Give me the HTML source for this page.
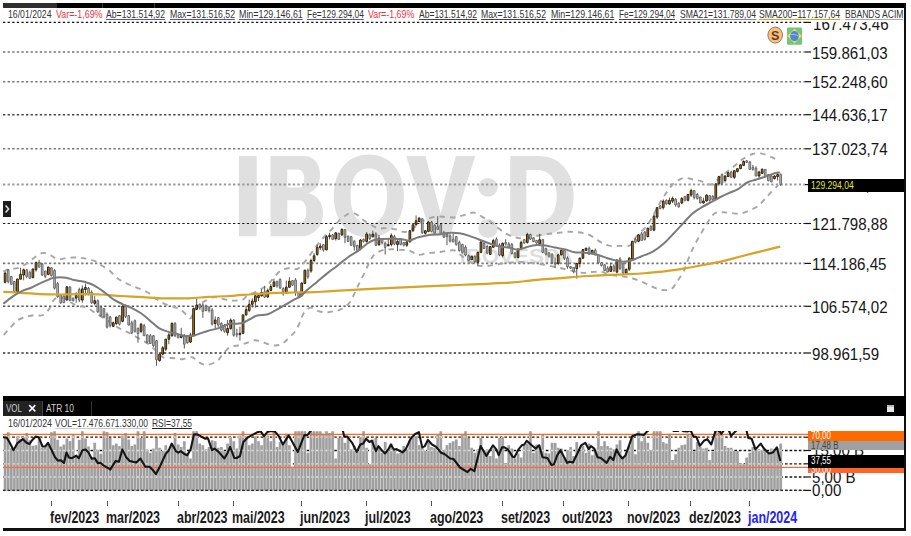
<!DOCTYPE html>
<html><head><meta charset="utf-8"><title>IBOV:D</title>
<style>
html,body{margin:0;padding:0;background:#fff;}
body{width:911px;height:536px;position:relative;overflow:hidden;font-family:"Liberation Sans",sans-serif;}
.abs{position:absolute;white-space:nowrap;}
.hd{position:absolute;top:8.6px;height:10.5px;line-height:10.5px;font-size:11px;color:#333;white-space:nowrap;transform-origin:0 50%;}
.hd u{text-decoration:none;display:inline-block;height:10.3px;line-height:10.5px;border-bottom:1px solid #5b5bd6;}
.ax{position:absolute;left:812px;font-size:16.5px;line-height:16px;color:#161616;white-space:nowrap;transform-origin:0 50%;transform:scaleX(.915);margin-top:.8px}
.mo{position:absolute;top:509.8px;font-size:16px;line-height:16px;font-weight:bold;color:#1a1a1a;white-space:nowrap;transform-origin:0 50%;transform:scaleX(.778);}
.box{position:absolute;left:808px;width:96px;white-space:nowrap;overflow:hidden;}
.box span{display:inline-block;transform-origin:0 50%;transform:scaleX(.8);}
</style></head><body>
<svg class="abs" style="left:0;top:0" width="911" height="536" viewBox="0 0 911 536">
<g fill="#e0e0e0" fill-rule="evenodd">
<rect x="238.9" y="155.9" width="17.8" height="80.4"/>
<path d="M270.5 155.9H303C314 155.9 320 163.5 320 175.2C320 184.5 315.5 190.5 308.5 193.2C317.5 195.4 322.9 202.5 322.9 213C322.9 227.5 313.5 236.3 300 236.3H270.5ZM287.3 169.6V187.6H299.5C304 187.6 304.3 182 304.3 178.6C304.3 173 302 169.6 297.5 169.6ZM287.3 200.3V222.6H300C305 222.6 306.3 216.5 306.3 211.4C306.3 205 304 200.3 299 200.3Z"/>
<path d="M368.85 154.6C390 154.6 403.9 171 403.9 196.1C403.9 221.2 390 237.6 368.85 237.6C347.7 237.6 333.8 221.2 333.8 196.1C333.8 171 347.7 154.6 368.85 154.6ZM368.85 168.4C357 168.4 350.6 178.5 350.6 196.1C350.6 213.7 357 223.8 368.85 223.8C380.7 223.8 387.1 213.7 387.1 196.1C387.1 178.5 380.7 168.4 368.85 168.4Z"/>
<path d="M406.2 155.9H425.5L440.7 213.5L455.9 155.9H475.3L449.8 236.3H431.6Z"/>
<ellipse cx="488" cy="187.3" rx="9.7" ry="9.4"/><ellipse cx="488" cy="228.5" rx="9.7" ry="9.4"/>
<path d="M510.3 155.9H538C560 155.9 573.7 171.5 573.7 196.1C573.7 220.7 560 236.3 538 236.3H510.3ZM526.4 170.1V222.1H537C550 222.1 556.7 212.5 556.7 196.1C556.7 179.7 550 170.1 537 170.1Z"/>
<text x="459.4" y="263" font-family="Liberation Sans, sans-serif" font-weight="bold" font-size="20" fill="#dedede" textLength="113.8" lengthAdjust="spacingAndGlyphs">IBOVESPA</text>
</g>
<line x1="3" y1="22.4" x2="805" y2="22.4" stroke="#111" stroke-width="1.2" stroke-dasharray="2.3 2.3"/>
<line x1="3" y1="52" x2="805" y2="52" stroke="#777" stroke-width="1.6" stroke-dasharray="2.3 2.3"/>
<line x1="3" y1="81.7" x2="805" y2="81.7" stroke="#777" stroke-width="1.6" stroke-dasharray="2.3 2.3"/>
<line x1="3" y1="114.7" x2="805" y2="114.7" stroke="#444" stroke-width="1.4" stroke-dasharray="2.3 2.3"/>
<line x1="3" y1="148.8" x2="805" y2="148.8" stroke="#777" stroke-width="1.6" stroke-dasharray="2.3 2.3"/>
<line x1="3" y1="184.6" x2="805" y2="184.6" stroke="#999" stroke-width="2" stroke-dasharray="2.3 2.3"/>
<line x1="3" y1="223.5" x2="805" y2="223.5" stroke="#1a1a1a" stroke-width="1.15" stroke-dasharray="2.3 2.3"/>
<line x1="3" y1="263.4" x2="805" y2="263.4" stroke="#777" stroke-width="1.6" stroke-dasharray="2.3 2.3"/>
<line x1="3" y1="306.3" x2="805" y2="306.3" stroke="#555" stroke-width="1.4" stroke-dasharray="2.3 2.3"/>
<line x1="3" y1="353" x2="805" y2="353" stroke="#333" stroke-width="1.4" stroke-dasharray="2.3 2.3"/>
<line x1="805" y1="22.4" x2="811" y2="22.4" stroke="#111" stroke-width="1.2"/>
<line x1="805" y1="52" x2="811" y2="52" stroke="#111" stroke-width="1.2"/>
<line x1="805" y1="81.7" x2="811" y2="81.7" stroke="#111" stroke-width="1.2"/>
<line x1="805" y1="114.7" x2="811" y2="114.7" stroke="#111" stroke-width="1.2"/>
<line x1="805" y1="148.8" x2="811" y2="148.8" stroke="#111" stroke-width="1.2"/>
<line x1="805" y1="184.6" x2="811" y2="184.6" stroke="#111" stroke-width="1.2"/>
<line x1="805" y1="223.5" x2="811" y2="223.5" stroke="#111" stroke-width="1.2"/>
<line x1="805" y1="263.4" x2="811" y2="263.4" stroke="#111" stroke-width="1.2"/>
<line x1="805" y1="306.3" x2="811" y2="306.3" stroke="#111" stroke-width="1.2"/>
<line x1="805" y1="353" x2="811" y2="353" stroke="#111" stroke-width="1.2"/>
<path d="M3.3 271.5C4.4 271.1 7.4 269.7 9.9 269.1C12.4 268.5 15.5 268.8 18.4 267.8C21.2 266.8 24.2 265.0 27.0 263.2C29.8 261.4 32.3 258.9 34.9 257.2C37.5 255.5 40.2 253.2 42.8 252.9C45.4 252.6 48.2 254.2 50.7 255.3C53.2 256.4 55.2 258.8 58.0 259.2C60.8 259.6 64.0 258.2 67.2 257.9C70.4 257.6 73.9 257.5 77.0 257.6C80.1 257.7 82.6 258.0 85.6 258.6C88.6 259.2 92.2 260.0 94.9 261.2C97.6 262.4 99.5 264.2 102.0 265.8C104.5 267.4 107.5 268.9 110.0 271.0C112.5 273.1 114.0 276.0 117.3 278.3C120.6 280.6 125.0 282.7 130.0 285.0C134.9 287.3 142.7 289.7 147.0 292.0C151.3 294.3 152.8 296.7 155.7 298.6C158.6 300.5 161.1 302.2 164.2 303.6C167.3 305.0 171.3 306.0 174.2 307.1C177.0 308.2 178.9 308.3 181.3 310.0C183.7 311.7 186.9 315.8 188.5 317.1C190.1 318.4 190.1 318.9 191.0 318.0C191.9 317.1 192.7 314.2 194.0 312.0C195.3 309.8 197.1 306.9 199.0 305.0C200.9 303.1 203.1 302.0 205.6 300.7C208.1 299.4 211.1 297.3 214.2 297.1C217.3 296.9 221.0 298.7 224.2 299.3C227.4 299.9 230.3 300.5 233.4 300.6C236.5 300.7 240.4 300.5 242.7 299.7C245.0 298.9 244.5 297.4 247.3 295.8C250.2 294.2 256.4 291.7 259.8 289.8C263.2 287.9 265.3 286.7 267.7 284.6C270.1 282.5 272.1 279.7 274.3 277.3C276.5 274.9 278.4 272.1 281.0 270.5C283.6 268.9 287.3 268.2 290.0 268.0C292.7 267.8 295.0 269.7 297.2 269.0C299.4 268.3 300.9 266.3 303.0 264.0C305.1 261.7 307.5 258.3 310.0 255.0C312.5 251.7 315.5 247.2 318.0 244.0C320.5 240.8 322.6 238.5 325.0 236.0C327.4 233.5 329.9 231.3 332.2 228.8C334.5 226.3 336.5 223.1 338.7 220.9C340.9 218.7 343.4 216.9 345.3 215.7C347.2 214.4 348.2 213.7 350.0 213.4C351.8 213.1 354.0 213.1 356.0 214.0C358.0 214.9 359.5 217.3 361.8 219.0C364.1 220.7 366.9 222.7 369.7 224.2C372.4 225.7 375.3 227.5 378.3 228.2C381.3 228.9 384.4 228.0 387.5 228.2C390.6 228.4 393.8 228.9 396.7 229.5C399.6 230.1 402.1 232.1 404.6 232.0C407.2 231.9 409.4 230.5 412.0 229.0C414.6 227.5 417.4 224.7 420.0 223.0C422.6 221.3 424.8 219.9 427.7 218.8C430.6 217.7 434.4 216.9 437.5 216.6C440.6 216.3 443.1 216.8 446.1 216.9C449.1 217.1 452.2 217.8 455.3 217.5C458.4 217.2 461.5 215.7 464.6 214.9C467.7 214.1 470.9 212.3 473.8 212.6C476.8 212.9 479.6 215.4 482.3 216.9C485.1 218.4 487.8 219.8 490.3 221.5C492.8 223.2 495.0 225.4 497.5 227.4C500.0 229.4 502.8 231.8 505.4 233.3C508.0 234.8 510.9 235.8 513.3 236.6C515.7 237.4 517.2 238.2 520.0 238.3C522.8 238.5 526.7 238.0 530.0 237.5C533.3 237.0 536.8 235.8 540.0 235.2C543.2 234.6 546.4 234.2 549.5 233.8C552.6 233.4 555.7 233.1 558.8 232.8C561.9 232.5 564.9 231.9 568.0 231.8C571.1 231.7 574.1 231.9 577.2 232.2C580.3 232.5 583.5 232.9 586.4 233.8C589.2 234.7 591.7 236.3 594.3 237.8C596.9 239.3 599.6 241.7 602.2 243.0C604.8 244.3 607.2 245.4 610.1 245.9C613.0 246.4 616.3 245.9 619.4 245.9C622.5 245.9 626.5 246.5 628.6 246.0C630.7 245.5 630.8 244.5 632.0 243.0C633.2 241.5 633.5 239.9 636.0 237.0C638.5 234.1 643.9 229.5 647.0 225.4C650.1 221.3 652.5 216.5 654.8 212.4C657.1 208.3 659.0 204.4 661.0 201.0C663.0 197.6 665.0 194.7 667.0 191.9C669.0 189.1 670.8 186.1 673.0 184.0C675.2 181.9 678.0 180.3 680.0 179.3C682.0 178.3 683.1 177.9 685.3 177.9C687.5 177.9 690.6 178.9 693.2 179.5C695.8 180.1 698.5 180.4 701.0 181.2C703.5 182.0 706.1 183.9 708.3 184.3C710.5 184.7 712.0 184.7 714.0 183.5C716.0 182.3 718.0 178.8 720.0 177.0C722.0 175.2 724.0 174.0 726.0 172.5C728.0 171.0 730.0 169.6 732.0 168.0C734.0 166.4 736.1 164.5 738.0 163.0C739.9 161.5 740.8 160.3 743.2 158.8C745.6 157.3 749.4 154.9 752.5 154.0C755.6 153.1 758.6 153.1 761.7 153.6C764.8 154.1 768.0 155.7 770.9 156.9C773.8 158.1 777.5 160.2 778.8 160.8" fill="none" stroke="#a6a6a6" stroke-width="1.9" stroke-dasharray="5.5 5"/>
<path d="M3.7 334.9C5.2 333.2 10.8 327.0 13.0 324.6C15.2 322.2 15.1 321.7 17.1 320.5C19.1 319.3 22.2 318.1 25.0 317.2C27.8 316.3 30.6 315.5 33.6 315.2C36.6 314.9 40.2 316.3 42.8 315.2C45.4 314.1 47.6 311.1 49.4 308.6C51.2 306.2 52.0 302.4 53.4 300.5C54.8 298.6 56.2 297.8 58.0 297.5C59.8 297.2 62.0 297.8 64.0 298.5C66.0 299.2 67.7 300.8 70.0 302.0C72.3 303.2 75.0 305.1 77.7 306.0C80.4 306.9 83.4 306.2 86.3 307.3C89.2 308.4 92.6 311.2 94.9 312.6C97.2 314.0 97.9 314.5 100.1 315.9C102.3 317.3 105.2 319.1 108.0 321.0C110.8 322.9 114.1 325.4 117.1 327.1C120.0 328.8 122.9 330.0 125.7 331.4C128.6 332.8 131.3 334.1 134.2 335.7C137.0 337.2 140.2 339.2 142.8 340.7C145.4 342.2 147.8 343.2 150.0 344.9C152.2 346.6 153.9 349.0 156.0 351.0C158.1 353.0 159.8 355.9 162.8 357.1C165.8 358.3 170.9 357.9 174.2 358.2C177.5 358.5 180.0 359.4 182.8 359.2C185.7 359.0 189.3 357.1 191.3 357.1C193.3 357.1 193.6 358.1 195.0 359.0C196.4 359.9 197.9 361.8 199.9 362.8C201.9 363.8 204.2 365.1 207.0 364.9C209.8 364.6 214.4 363.1 217.0 361.3C219.6 359.5 220.5 356.6 222.7 354.2C224.9 351.8 227.4 348.6 230.0 347.1C232.6 345.7 235.2 346.2 238.0 345.5C240.8 344.8 243.8 343.9 246.6 343.0C249.3 342.1 251.9 340.4 254.5 340.2C257.1 340.0 259.5 341.1 262.4 341.9C265.3 342.7 268.6 344.8 271.7 345.2C274.8 345.6 278.2 345.6 280.9 344.5C283.6 343.4 285.7 340.9 288.1 338.6C290.5 336.4 293.4 333.8 295.4 331.0C297.4 328.2 298.6 325.1 300.0 322.1C301.4 319.1 302.1 315.3 303.9 312.9C305.6 310.5 308.0 307.9 310.5 307.6C313.0 307.3 316.1 310.5 319.1 311.3C322.1 312.1 325.7 312.3 328.3 312.2C330.9 312.1 332.8 311.4 335.0 310.9C337.2 310.4 339.0 310.5 341.5 309.0C344.0 307.5 347.4 305.7 350.0 302.0C352.6 298.3 355.6 290.5 357.4 287.0C359.1 283.5 359.2 283.4 360.5 280.9C361.8 278.3 363.7 274.7 365.1 271.7C366.5 268.7 367.5 266.0 369.0 263.1C370.5 260.2 372.1 256.6 374.3 254.5C376.5 252.4 379.4 251.2 382.2 250.3C385.0 249.4 388.1 249.4 391.4 249.3C394.7 249.2 399.0 249.7 402.0 249.9C405.0 250.1 406.5 249.7 409.2 250.5C411.9 251.3 415.3 254.4 418.4 254.8C421.5 255.2 424.6 253.5 427.7 253.1C430.8 252.7 433.9 252.7 436.9 252.4C439.9 252.1 442.5 251.4 445.5 251.1C448.5 250.8 452.2 249.8 454.7 250.5C457.2 251.2 458.9 253.7 460.6 255.0C462.3 256.3 463.4 257.3 465.0 258.5C466.6 259.7 467.9 260.8 470.0 262.0C472.1 263.2 474.9 265.0 477.7 265.6C480.5 266.2 483.9 266.1 487.0 265.9C490.1 265.7 492.9 265.1 496.0 264.6C499.1 264.1 502.5 263.4 505.4 263.0C508.3 262.6 510.9 262.5 513.3 262.3C515.7 262.1 515.5 261.7 520.0 262.0C524.5 262.3 533.3 263.0 540.0 264.0C546.7 265.0 553.1 266.6 560.0 268.0C566.9 269.4 575.8 272.0 581.1 272.7C586.4 273.4 588.4 272.1 591.7 272.0C595.0 271.9 597.8 271.4 600.9 271.8C604.0 272.2 607.0 274.0 610.1 274.7C613.2 275.4 616.3 275.6 619.4 276.0C622.5 276.4 625.8 276.7 628.6 277.3C631.4 277.9 633.3 278.6 636.1 279.6C638.9 280.6 642.6 282.1 645.4 283.3C648.2 284.5 650.1 285.9 652.9 287.0C655.7 288.1 659.1 289.7 662.2 290.0C665.3 290.3 669.1 290.3 671.6 288.9C674.1 287.5 675.2 284.3 677.2 281.4C679.2 278.4 681.8 274.9 683.7 271.2C685.6 267.5 686.7 263.2 688.4 259.0C690.1 254.8 691.8 250.3 694.0 246.0C696.2 241.7 699.1 237.0 701.4 232.9C703.7 228.8 705.8 224.9 708.0 221.7C710.2 218.5 712.1 215.1 714.5 213.5C716.9 211.9 719.4 212.2 722.2 212.2C725.0 212.1 728.3 213.0 731.4 213.2C734.5 213.4 737.5 214.0 740.6 213.5C743.7 213.0 746.9 211.4 749.8 210.2C752.6 209.0 755.3 208.1 757.7 206.3C760.1 204.6 762.1 202.0 764.3 199.7C766.5 197.4 768.6 194.8 770.9 192.4C773.2 190.0 777.0 186.4 778.2 185.2" fill="none" stroke="#a6a6a6" stroke-width="1.9" stroke-dasharray="5.5 5"/>
<path d="M5.10 271.7V283.5M8.19 269.0V283.4M11.28 276.0V284.7M14.37 281.2V292.7M17.46 278.6V292.7M20.55 267.8V279.6M23.64 268.4V280.3M26.73 269.4V278.2M29.82 270.6V278.7M32.91 268.3V278.1M36.00 261.6V271.6M39.09 259.9V267.5M42.18 263.4V275.8M45.27 270.7V278.2M48.36 266.7V275.2M51.45 267.4V276.5M54.54 269.2V289.5M57.63 281.8V297.6M60.72 294.4V303.9M63.81 295.3V303.1M66.90 286.1V301.0M69.99 286.5V301.1M73.08 297.7V301.5M76.17 292.2V302.7M79.26 287.7V301.9M82.35 285.6V302.7M85.44 283.6V295.5M88.53 287.0V295.3M91.62 290.4V303.9M94.71 296.1V305.3M97.80 299.5V312.7M100.89 306.3V316.5M103.98 308.2V318.3M107.07 312.5V328.5M110.16 315.9V327.5M113.25 321.6V326.8M116.34 316.7V325.3M119.43 314.9V325.4M122.52 305.0V322.2M125.61 304.6V318.2M128.70 315.3V325.4M131.79 320.7V334.2M134.88 319.5V332.6M137.97 327.3V342.8M141.06 322.8V333.2M144.15 323.9V336.1M147.24 334.5V343.3M150.33 333.9V343.9M153.42 335.3V346.9M156.51 339.9V365.6M159.60 352.4V361.8M162.69 346.0V355.4M165.78 338.8V351.0M168.87 332.8V344.2M171.96 322.1V336.9M175.05 322.1V337.1M178.14 334.9V338.2M181.23 327.8V338.5M184.32 333.9V348.5M187.41 335.3V343.6M190.50 332.8V342.8M193.59 307.4V336.5M196.68 298.6V310.0M199.77 303.5V309.6M202.86 303.2V317.8M205.95 304.6V311.1M209.04 306.3V312.5M212.13 308.2V325.4M215.22 316.4V328.5M218.31 317.0V326.8M221.40 322.3V331.4M224.49 323.9V332.6M227.58 320.0V335.7M230.67 318.3V329.5M233.76 319.3V336.6M236.85 328.7V337.3M239.94 326.7V340.6M243.03 314.5V334.1M246.12 305.6V315.7M249.21 299.7V312.2M252.30 298.4V307.6M255.39 294.4V307.6M258.48 294.4V301.0M261.57 289.2V296.6M264.66 285.9V297.7M267.75 288.5V297.7M270.84 283.9V291.3M273.93 278.6V287.2M277.02 280.9V287.7M280.11 278.5V289.1M283.20 287.3V295.8M286.29 280.6V293.8M289.38 277.3V287.9M292.47 280.2V286.0M295.56 278.2V295.8M298.65 291.9V297.6M301.74 281.9V296.4M304.83 269.5V283.9M307.92 268.5V278.7M311.01 258.7V272.8M314.10 253.2V262.3M317.19 244.6V255.8M320.28 243.3V249.9M323.37 244.2V251.7M326.46 234.9V250.3M329.55 232.8V239.4M332.64 234.0V239.8M335.73 232.0V240.5M338.82 232.6V239.8M341.91 228.2V236.0M345.00 229.1V243.3M348.09 235.7V241.8M351.18 235.9V245.7M354.27 240.2V250.6M357.36 244.9V251.0M360.45 239.2V250.4M363.54 238.6V242.6M366.63 232.1V242.7M369.72 233.6V239.9M372.81 230.8V237.4M375.90 232.3V245.7M378.99 234.8V246.0M382.08 238.3V244.5M385.17 241.5V254.5M388.26 238.7V246.0M391.35 233.4V246.4M394.44 234.9V245.2M397.53 240.0V251.2M400.62 238.2V245.3M403.71 242.1V246.4M406.80 240.7V247.0M409.89 229.9V242.3M412.98 223.4V232.0M416.07 215.5V225.6M419.16 217.0V222.3M422.25 218.4V233.9M425.34 230.3V234.5M428.43 220.9V232.2M431.52 220.9V232.2M434.61 224.2V234.1M437.70 216.2V230.0M440.79 224.0V234.1M443.88 230.9V238.1M446.97 233.8V245.2M450.06 234.2V242.4M453.15 234.0V242.3M456.24 236.2V245.7M459.33 240.7V251.7M462.42 243.7V253.6M465.51 245.4V256.3M468.60 254.5V260.7M471.69 255.6V260.1M474.78 255.6V263.5M477.87 251.6V265.6M480.96 240.7V253.2M484.05 241.4V248.9M487.14 244.7V254.3M490.23 246.1V254.8M493.32 238.8V248.0M496.41 237.5V246.6M499.50 243.4V256.3M502.59 242.8V257.5M505.68 239.3V245.7M508.77 242.1V247.6M511.86 243.0V254.4M514.95 252.1V258.3M518.04 248.6V258.3M521.13 240.6V249.8M524.22 239.1V243.7M527.31 232.7V243.6M530.40 233.7V239.9M533.49 237.4V242.1M536.58 240.0V243.8M539.67 233.8V245.5M542.76 238.9V253.1M545.85 247.9V255.4M548.94 252.1V257.4M552.03 253.4V264.0M555.12 257.5V268.1M558.21 253.7V265.3M561.30 249.5V255.3M564.39 249.1V260.0M567.48 256.4V268.7M570.57 265.9V268.9M573.66 267.0V273.2M576.75 262.7V278.6M579.84 257.5V267.4M582.93 249.2V259.0M586.02 247.5V251.1M589.11 246.5V254.6M592.20 249.9V254.8M595.29 248.5V255.3M598.38 254.5V263.6M601.47 262.0V266.6M604.56 264.4V271.1M607.65 266.3V272.4M610.74 262.8V271.8M613.83 264.3V271.9M616.92 259.2V273.3M620.01 257.2V270.2M623.10 262.9V274.2M626.19 268.5V274.8M629.28 257.3V271.1M632.37 240.9V260.8M635.46 237.6V243.4M638.55 234.4V242.1M641.64 232.0V240.8M644.73 231.2V240.6M647.82 227.8V237.4M650.91 225.2V230.9M654.00 214.3V231.3M657.09 206.9V218.9M660.18 205.1V209.1M663.27 199.4V209.5M666.36 199.5V204.8M669.45 197.5V204.8M672.54 196.6V203.0M675.63 198.1V206.7M678.72 202.3V207.7M681.81 197.2V204.2M684.90 196.0V201.5M687.99 194.0V201.5M691.08 188.7V196.9M694.17 190.1V199.5M697.26 193.2V199.6M700.35 196.6V203.4M703.44 197.7V203.6M706.53 194.3V201.4M709.62 195.3V201.5M712.71 195.2V200.1M715.80 183.1V200.2M718.89 175.8V185.7M721.98 173.4V185.0M725.07 175.2V182.4M728.16 171.5V177.0M731.25 170.8V177.7M734.34 169.9V179.1M737.43 168.3V172.6M740.52 164.4V169.1M743.61 160.3V165.8M746.70 160.0V162.8M749.79 160.9V169.8M752.88 164.8V170.7M755.97 166.3V176.4M759.06 170.8V177.8M762.15 168.2V174.1M765.24 169.0V177.4M768.33 174.2V181.4M771.42 174.8V182.3M774.51 175.2V179.4M777.60 172.0V180.6M780.69 173.4V185.7" stroke="#555" stroke-width="1" fill="none"/>
<path d="M7.34 269.8h1.7V281.6h-1.7zM10.43 276.4h1.7V284.3h-1.7zM13.52 281.6h1.7V291.5h-1.7zM25.88 269.8h1.7V276.4h-1.7zM28.97 272.4h1.7V278.3h-1.7zM38.24 262.5h1.7V267.1h-1.7zM41.33 263.8h1.7V275.0h-1.7zM44.42 271.1h1.7V276.4h-1.7zM50.60 267.8h1.7V275.7h-1.7zM53.69 270.4h1.7V288.2h-1.7zM56.78 283.6h1.7V296.8h-1.7zM59.87 294.8h1.7V302.7h-1.7zM62.96 296.1h1.7V302.7h-1.7zM69.14 286.9h1.7V300.7h-1.7zM72.23 298.1h1.7V300.7h-1.7zM78.41 289.5h1.7V300.1h-1.7zM87.68 288.2h1.7V293.5h-1.7zM90.77 292.2h1.7V302.7h-1.7zM96.95 300.7h1.7V311.9h-1.7zM100.04 307.1h1.7V315.7h-1.7zM103.13 308.6h1.7V317.1h-1.7zM106.22 314.3h1.7V327.1h-1.7zM109.31 317.1h1.7V325.7h-1.7zM118.58 315.7h1.7V324.2h-1.7zM124.76 306.4h1.7V316.4h-1.7zM127.85 315.7h1.7V325.0h-1.7zM130.94 322.8h1.7V332.8h-1.7zM134.03 320.7h1.7V331.4h-1.7zM137.12 328.5h1.7V333.5h-1.7zM143.30 325.7h1.7V335.7h-1.7zM146.39 334.9h1.7V342.1h-1.7zM149.48 335.7h1.7V343.5h-1.7zM152.57 335.7h1.7V345.7h-1.7zM155.66 340.7h1.7V359.9h-1.7zM174.20 323.5h1.7V335.7h-1.7zM177.29 335.7h1.7V337.8h-1.7zM183.47 335.7h1.7V344.2h-1.7zM186.56 335.7h1.7V342.8h-1.7zM198.92 304.3h1.7V307.8h-1.7zM202.01 305.0h1.7V311.4h-1.7zM205.10 306.4h1.7V310.7h-1.7zM208.19 307.1h1.7V310.7h-1.7zM211.28 310.0h1.7V324.2h-1.7zM217.46 317.8h1.7V325.0h-1.7zM220.55 323.5h1.7V330.0h-1.7zM223.64 325.7h1.7V331.4h-1.7zM232.91 320.1h1.7V335.3h-1.7zM236.00 333.7h1.7V334.9h-1.7zM263.81 291.8h1.7V297.1h-1.7zM276.17 281.3h1.7V285.9h-1.7zM279.26 279.3h1.7V287.9h-1.7zM282.35 288.5h1.7V291.8h-1.7zM291.62 280.6h1.7V285.2h-1.7zM294.71 280.0h1.7V291.8h-1.7zM297.80 293.1h1.7V296.4h-1.7zM307.07 270.3h1.7V276.9h-1.7zM322.52 244.6h1.7V249.9h-1.7zM331.79 234.8h1.7V239.4h-1.7zM337.97 233.4h1.7V239.4h-1.7zM344.15 229.5h1.7V237.4h-1.7zM347.24 236.1h1.7V241.4h-1.7zM350.33 236.7h1.7V245.3h-1.7zM353.42 241.4h1.7V246.6h-1.7zM356.51 245.3h1.7V250.6h-1.7zM362.69 239.4h1.7V241.4h-1.7zM368.87 234.8h1.7V238.7h-1.7zM375.05 234.1h1.7V245.3h-1.7zM381.23 238.7h1.7V242.7h-1.7zM384.32 243.3h1.7V247.3h-1.7zM393.59 236.7h1.7V244.0h-1.7zM399.77 238.6h1.7V244.5h-1.7zM402.86 242.5h1.7V245.2h-1.7zM421.40 218.8h1.7V232.7h-1.7zM430.67 222.1h1.7V231.4h-1.7zM433.76 225.4h1.7V233.3h-1.7zM436.85 226.7h1.7V229.4h-1.7zM439.94 224.8h1.7V233.3h-1.7zM443.03 232.7h1.7V237.3h-1.7zM446.12 234.6h1.7V236.6h-1.7zM449.21 236.0h1.7V241.2h-1.7zM452.30 239.3h1.7V241.9h-1.7zM455.39 236.6h1.7V244.5h-1.7zM458.48 242.5h1.7V250.5h-1.7zM461.57 244.5h1.7V252.4h-1.7zM464.66 247.2h1.7V255.1h-1.7zM467.75 255.7h1.7V260.3h-1.7zM473.93 256.4h1.7V261.7h-1.7zM483.20 243.2h1.7V248.5h-1.7zM486.29 246.5h1.7V253.1h-1.7zM495.56 239.3h1.7V245.8h-1.7zM498.65 245.2h1.7V255.1h-1.7zM504.83 242.5h1.7V243.9h-1.7zM507.92 243.9h1.7V247.2h-1.7zM511.01 244.4h1.7V253.6h-1.7zM514.10 252.9h1.7V257.5h-1.7zM523.37 239.7h1.7V243.0h-1.7zM529.55 234.5h1.7V239.1h-1.7zM532.64 237.8h1.7V241.7h-1.7zM535.73 240.4h1.7V243.0h-1.7zM541.91 239.7h1.7V252.3h-1.7zM545.00 248.3h1.7V254.2h-1.7zM548.09 252.9h1.7V256.2h-1.7zM551.18 254.2h1.7V262.8h-1.7zM554.27 262.8h1.7V264.1h-1.7zM563.54 250.3h1.7V258.2h-1.7zM566.63 258.2h1.7V266.7h-1.7zM569.72 266.7h1.7V268.1h-1.7zM572.81 267.4h1.7V271.4h-1.7zM588.26 248.3h1.7V254.2h-1.7zM594.44 250.3h1.7V254.9h-1.7zM597.53 254.9h1.7V262.8h-1.7zM600.62 262.8h1.7V265.4h-1.7zM603.71 264.8h1.7V270.7h-1.7zM606.80 268.1h1.7V272.0h-1.7zM612.98 266.1h1.7V270.7h-1.7zM619.16 259.0h1.7V268.4h-1.7zM622.25 263.7h1.7V273.0h-1.7zM634.61 239.4h1.7V242.2h-1.7zM640.79 233.8h1.7V240.4h-1.7zM643.88 232.0h1.7V239.4h-1.7zM650.06 226.4h1.7V230.1h-1.7zM659.33 205.9h1.7V208.7h-1.7zM665.51 200.3h1.7V204.0h-1.7zM674.78 199.3h1.7V204.9h-1.7zM677.87 203.1h1.7V206.8h-1.7zM684.05 196.4h1.7V200.3h-1.7zM693.32 190.5h1.7V197.7h-1.7zM696.41 194.4h1.7V198.4h-1.7zM699.50 197.0h1.7V203.0h-1.7zM708.77 195.7h1.7V200.3h-1.7zM711.86 196.4h1.7V199.7h-1.7zM721.13 174.6h1.7V183.2h-1.7zM730.40 172.0h1.7V177.3h-1.7zM745.85 160.8h1.7V162.4h-1.7zM748.94 162.1h1.7V169.4h-1.7zM752.03 167.4h1.7V169.4h-1.7zM755.12 168.1h1.7V176.0h-1.7zM764.39 169.4h1.7V176.6h-1.7zM767.48 174.6h1.7V180.6h-1.7zM770.57 176.0h1.7V181.9h-1.7zM779.84 174.6h1.7V184.5h-1.7z" fill="#c4c4c4" stroke="#606060" stroke-width="0.9"/>
<path d="M4.25 273.1h1.7V282.3h-1.7zM16.61 279.0h1.7V291.9h-1.7zM19.70 274.4h1.7V279.2h-1.7zM22.79 269.8h1.7V275.0h-1.7zM32.06 269.1h1.7V277.7h-1.7zM35.15 262.5h1.7V269.8h-1.7zM47.51 267.1h1.7V274.4h-1.7zM66.05 286.9h1.7V299.8h-1.7zM75.32 295.5h1.7V298.1h-1.7zM81.50 288.9h1.7V300.1h-1.7zM84.59 287.5h1.7V289.5h-1.7zM93.86 300.7h1.7V303.4h-1.7zM112.40 322.8h1.7V326.4h-1.7zM115.49 317.1h1.7V323.5h-1.7zM121.67 306.4h1.7V321.4h-1.7zM140.21 324.2h1.7V331.4h-1.7zM158.75 354.2h1.7V360.6h-1.7zM161.84 347.8h1.7V354.2h-1.7zM164.93 339.2h1.7V349.2h-1.7zM168.02 334.9h1.7V339.2h-1.7zM171.11 323.5h1.7V335.7h-1.7zM180.38 335.4h1.7V337.4h-1.7zM189.65 334.9h1.7V342.1h-1.7zM192.74 308.6h1.7V335.7h-1.7zM195.83 305.0h1.7V309.3h-1.7zM214.37 320.0h1.7V323.5h-1.7zM226.73 328.5h1.7V332.8h-1.7zM229.82 320.1h1.7V328.7h-1.7zM239.09 333.3h1.7V334.6h-1.7zM242.18 314.9h1.7V333.3h-1.7zM245.27 309.6h1.7V314.9h-1.7zM248.36 304.3h1.7V310.5h-1.7zM251.45 301.0h1.7V304.3h-1.7zM254.54 295.8h1.7V301.7h-1.7zM257.63 295.5h1.7V297.7h-1.7zM260.72 292.5h1.7V295.8h-1.7zM266.90 290.5h1.7V297.1h-1.7zM269.99 286.5h1.7V290.5h-1.7zM273.08 281.9h1.7V286.5h-1.7zM285.44 287.2h1.7V293.1h-1.7zM288.53 281.3h1.7V287.2h-1.7zM300.89 283.2h1.7V295.8h-1.7zM303.98 270.3h1.7V283.5h-1.7zM310.16 260.5h1.7V271.0h-1.7zM313.25 255.8h1.7V260.5h-1.7zM316.34 247.3h1.7V254.5h-1.7zM319.43 246.0h1.7V247.9h-1.7zM325.61 236.7h1.7V249.9h-1.7zM328.70 235.4h1.7V236.7h-1.7zM334.88 232.8h1.7V238.7h-1.7zM341.06 229.5h1.7V234.8h-1.7zM359.60 240.0h1.7V248.6h-1.7zM365.78 234.1h1.7V241.4h-1.7zM371.96 234.1h1.7V236.7h-1.7zM378.14 238.1h1.7V244.6h-1.7zM387.41 244.6h1.7V245.8h-1.7zM390.50 235.4h1.7V244.6h-1.7zM396.68 241.4h1.7V244.6h-1.7zM405.95 241.9h1.7V245.2h-1.7zM409.04 230.7h1.7V241.9h-1.7zM412.13 224.8h1.7V230.7h-1.7zM415.22 220.8h1.7V224.8h-1.7zM418.31 218.2h1.7V221.5h-1.7zM424.49 230.7h1.7V233.3h-1.7zM427.58 222.1h1.7V231.4h-1.7zM470.84 256.4h1.7V259.7h-1.7zM477.02 252.4h1.7V262.3h-1.7zM480.11 241.9h1.7V252.4h-1.7zM489.38 246.5h1.7V254.4h-1.7zM492.47 240.6h1.7V247.2h-1.7zM501.74 243.2h1.7V255.7h-1.7zM517.19 249.0h1.7V257.5h-1.7zM520.28 242.4h1.7V249.0h-1.7zM526.46 234.5h1.7V242.4h-1.7zM538.82 239.7h1.7V243.7h-1.7zM557.36 254.9h1.7V263.5h-1.7zM560.45 250.3h1.7V254.9h-1.7zM575.90 263.5h1.7V268.7h-1.7zM578.99 258.2h1.7V263.5h-1.7zM582.08 249.6h1.7V258.2h-1.7zM585.17 248.3h1.7V250.3h-1.7zM591.35 250.3h1.7V253.6h-1.7zM609.89 266.7h1.7V271.4h-1.7zM616.07 260.0h1.7V272.1h-1.7zM625.34 269.3h1.7V273.0h-1.7zM628.43 258.1h1.7V269.3h-1.7zM631.52 241.3h1.7V259.0h-1.7zM637.70 234.8h1.7V241.3h-1.7zM646.97 228.2h1.7V236.6h-1.7zM653.15 216.1h1.7V230.1h-1.7zM656.24 207.7h1.7V217.1h-1.7zM662.42 201.2h1.7V207.7h-1.7zM668.60 200.3h1.7V204.0h-1.7zM671.69 198.4h1.7V201.2h-1.7zM680.96 198.4h1.7V203.0h-1.7zM687.14 194.4h1.7V200.3h-1.7zM690.23 190.5h1.7V195.1h-1.7zM702.59 201.0h1.7V203.0h-1.7zM705.68 195.1h1.7V201.0h-1.7zM714.95 183.9h1.7V199.0h-1.7zM718.04 176.6h1.7V183.9h-1.7zM724.22 176.0h1.7V180.6h-1.7zM727.31 172.7h1.7V176.6h-1.7zM733.49 170.7h1.7V177.3h-1.7zM736.58 168.7h1.7V171.4h-1.7zM739.67 164.8h1.7V168.7h-1.7zM742.76 161.5h1.7V165.4h-1.7zM758.21 172.0h1.7V176.0h-1.7zM761.30 169.4h1.7V173.3h-1.7zM773.66 176.0h1.7V178.6h-1.7zM776.75 174.6h1.7V176.6h-1.7z" fill="#bd8716" stroke="#2a2010" stroke-width="1"/>
<path d="M3.3 291.9C6.0 292.0 13.8 292.4 19.8 292.8C25.8 293.2 32.9 293.8 39.5 294.1C46.1 294.4 52.7 294.5 59.3 294.5C65.9 294.5 72.2 294.2 79.0 294.2C85.8 294.2 92.9 294.2 100.0 294.5C107.1 294.8 114.3 295.6 121.4 296.0C128.5 296.4 135.7 296.7 142.8 297.1C149.9 297.5 156.6 298.1 164.2 298.3C171.8 298.5 181.1 298.5 188.5 298.3C195.9 298.1 201.5 297.3 208.4 296.9C215.3 296.5 222.3 296.5 230.0 296.0C237.7 295.5 247.1 294.5 254.5 294.0C261.9 293.5 267.7 293.1 274.3 292.9C280.9 292.6 287.4 292.6 294.0 292.5C300.6 292.4 307.0 292.5 313.8 292.2C320.6 291.9 321.0 291.6 335.0 290.8C349.0 290.0 378.8 288.5 398.0 287.6C417.2 286.7 431.3 286.1 450.0 285.3C468.7 284.5 496.7 283.4 510.0 282.6C523.3 281.8 523.2 281.2 529.8 280.6C536.4 280.0 542.9 279.4 549.5 278.9C556.1 278.3 562.7 277.8 569.3 277.3C575.9 276.8 582.4 276.4 589.0 276.0C595.6 275.6 602.2 275.2 608.8 274.9C615.4 274.6 622.3 274.5 628.7 274.2C635.1 273.9 641.1 273.5 647.3 273.0C653.5 272.5 659.8 272.0 666.0 271.2C672.2 270.4 678.4 269.4 684.6 268.4C690.8 267.4 697.7 266.0 703.3 265.0C708.9 264.0 713.8 263.1 718.2 262.2C722.7 261.3 726.3 260.3 730.0 259.4C733.7 258.4 735.5 257.8 740.5 256.5C745.5 255.2 753.4 253.2 760.0 251.6C766.6 249.9 776.8 247.4 780.2 246.6" fill="none" stroke="#d8a326" stroke-width="2.2"/>
<path d="M3.3 303.8C4.9 302.5 10.0 298.3 13.2 296.1C16.4 293.9 19.3 292.2 22.4 290.8C25.5 289.4 28.8 288.7 31.6 287.5C34.5 286.3 36.6 284.9 39.5 283.6C42.4 282.3 46.3 280.6 48.7 279.6C51.1 278.6 51.1 278.0 54.0 277.7C56.9 277.4 62.6 277.3 65.9 277.7C69.2 278.1 70.7 279.3 73.8 280.0C76.9 280.7 80.8 280.8 84.3 281.8C87.8 282.8 91.4 283.9 94.9 285.8C98.4 287.7 102.2 290.7 105.4 293.0C108.6 295.3 110.9 297.8 113.8 299.7C116.7 301.6 119.9 302.9 122.8 304.3C125.7 305.7 128.3 306.3 131.4 307.8C134.5 309.3 138.3 311.4 141.4 313.5C144.5 315.6 147.2 318.3 150.0 320.7C152.8 323.1 155.7 326.0 158.5 327.8C161.3 329.6 164.2 330.4 167.0 331.4C169.8 332.3 172.7 332.8 175.6 333.5C178.5 334.2 181.3 335.3 184.2 335.7C187.1 336.1 190.2 336.3 192.8 335.9C195.4 335.5 197.3 334.4 199.9 333.5C202.5 332.6 205.6 331.5 208.4 330.7C211.2 329.9 214.7 329.3 217.0 328.6C219.3 327.9 219.9 327.5 222.0 326.7C224.1 325.9 226.9 324.3 229.5 323.8C232.1 323.3 235.1 323.9 237.4 323.7C239.7 323.5 241.3 323.5 243.3 322.8C245.3 322.1 247.0 320.7 249.3 319.5C251.6 318.3 254.1 316.4 257.2 315.5C260.3 314.6 264.4 315.2 267.7 314.2C271.0 313.2 273.8 311.2 276.9 309.6C280.0 308.0 283.2 306.0 286.1 304.3C289.0 302.6 291.6 301.0 294.0 299.7C296.4 298.4 298.4 298.0 300.6 296.4C302.8 294.8 304.6 292.3 307.2 290.0C309.8 287.7 313.1 285.1 316.4 282.4C319.7 279.7 323.4 276.4 326.9 273.6C330.4 270.8 333.9 268.4 337.4 265.7C340.9 263.0 344.5 259.7 348.0 257.2C351.5 254.7 355.2 252.9 358.5 250.6C361.8 248.3 365.1 245.1 367.7 243.3C370.3 241.5 371.9 240.7 374.3 240.0C376.7 239.3 379.1 239.2 382.2 239.0C385.3 238.8 389.3 238.6 392.8 238.7C396.3 238.8 400.6 239.1 403.3 239.4C406.0 239.7 406.7 240.9 409.2 240.6C411.7 240.2 415.1 238.2 418.4 237.3C421.7 236.4 425.5 235.5 429.0 235.0C432.5 234.5 436.0 234.6 439.5 234.2C443.0 233.8 446.7 232.8 450.0 232.7C453.3 232.5 456.2 232.8 459.3 233.3C462.4 233.8 465.2 234.6 468.5 235.6C471.8 236.6 475.5 238.2 479.0 239.5C482.5 240.8 486.1 242.3 489.6 243.5C493.1 244.7 496.7 245.8 500.0 246.5C503.3 247.2 506.4 247.3 509.4 247.8C512.4 248.3 514.9 249.7 517.9 249.6C520.9 249.5 524.0 247.8 527.1 247.0C530.2 246.2 533.3 245.3 536.4 245.0C539.5 244.7 542.5 245.0 545.6 245.4C548.7 245.8 551.5 246.9 554.8 247.6C558.1 248.3 562.0 248.6 565.3 249.4C568.6 250.2 571.7 251.8 574.6 252.3C577.5 252.8 579.6 252.3 582.5 252.5C585.4 252.7 588.9 253.1 591.7 253.6C594.6 254.1 597.0 254.7 599.6 255.5C602.2 256.3 604.9 257.4 607.5 258.2C610.1 259.0 613.1 259.8 615.4 260.4C617.7 261.0 618.7 261.5 621.2 261.6C623.7 261.7 627.1 261.7 630.5 260.8C633.9 259.9 638.0 257.7 641.7 256.2C645.4 254.7 649.2 253.8 652.9 251.6C656.6 249.4 660.7 246.2 664.1 243.2C667.5 240.2 670.0 237.4 673.4 233.8C676.8 230.2 681.5 225.0 684.6 221.7C687.7 218.4 689.5 216.2 692.0 214.0C694.5 211.8 696.8 210.4 699.8 208.5C702.8 206.6 707.0 204.3 710.3 202.5C713.6 200.7 716.4 199.1 719.5 197.5C722.6 195.9 725.6 194.5 728.7 193.1C731.8 191.7 734.9 190.9 738.0 189.1C741.1 187.3 744.1 184.1 747.2 182.5C750.3 180.9 753.3 180.5 756.4 179.5C759.5 178.5 762.5 177.6 765.6 176.6C768.7 175.6 772.5 174.0 774.9 173.3C777.3 172.6 779.2 172.6 780.1 172.4" fill="none" stroke="#7b7b7b" stroke-width="2"/>
<defs><clipPath id="pc"><rect x="3" y="431" width="802" height="62"/></clipPath>
<clipPath id="bc"><path d="M3.90 435.6h2.4V490.6h-2.4zM6.99 432.3h2.4V490.6h-2.4zM10.08 448.3h2.4V490.6h-2.4zM13.17 449.5h2.4V490.6h-2.4zM16.26 436.6h2.4V490.6h-2.4zM19.35 439.1h2.4V490.6h-2.4zM22.44 437.2h2.4V490.6h-2.4zM25.53 432.9h2.4V490.6h-2.4zM28.62 440.3h2.4V490.6h-2.4zM31.71 445.8h2.4V490.6h-2.4zM34.80 445.2h2.4V490.6h-2.4zM37.89 437.2h2.4V490.6h-2.4zM40.98 447.7h2.4V490.6h-2.4zM44.07 446.5h2.4V490.6h-2.4zM47.16 444.0h2.4V490.6h-2.4zM50.25 432.3h2.4V490.6h-2.4zM53.34 431.2h2.4V490.6h-2.4zM56.43 439.7h2.4V490.6h-2.4zM59.52 446.5h2.4V490.6h-2.4zM62.61 444.6h2.4V490.6h-2.4zM65.70 438.5h2.4V490.6h-2.4zM68.79 440.9h2.4V490.6h-2.4zM71.88 434.2h2.4V490.6h-2.4zM74.97 456.3h2.4V490.6h-2.4zM78.06 439.7h2.4V490.6h-2.4zM81.15 431.2h2.4V490.6h-2.4zM84.24 438.5h2.4V490.6h-2.4zM87.33 446.5h2.4V490.6h-2.4zM90.42 456.9h2.4V490.6h-2.4zM93.51 442.8h2.4V490.6h-2.4zM96.60 450.2h2.4V490.6h-2.4zM99.69 453.8h2.4V490.6h-2.4zM102.78 431.2h2.4V490.6h-2.4zM105.87 432.1h2.4V490.6h-2.4zM108.96 437.9h2.4V490.6h-2.4zM112.05 445.3h2.4V490.6h-2.4zM115.14 443.6h2.4V490.6h-2.4zM118.23 446.1h2.4V490.6h-2.4zM121.32 435.4h2.4V490.6h-2.4zM124.41 432.9h2.4V490.6h-2.4zM127.50 439.5h2.4V490.6h-2.4zM130.59 446.1h2.4V490.6h-2.4zM133.68 444.5h2.4V490.6h-2.4zM136.77 431.3h2.4V490.6h-2.4zM139.86 437.9h2.4V490.6h-2.4zM142.95 431.3h2.4V490.6h-2.4zM146.04 450.2h2.4V490.6h-2.4zM149.13 452.7h2.4V490.6h-2.4zM152.22 448.6h2.4V490.6h-2.4zM155.31 437.9h2.4V490.6h-2.4zM158.40 447.8h2.4V490.6h-2.4zM161.49 451.1h2.4V490.6h-2.4zM164.58 445.3h2.4V490.6h-2.4zM167.67 449.4h2.4V490.6h-2.4zM170.76 444.5h2.4V490.6h-2.4zM173.85 432.9h2.4V490.6h-2.4zM176.94 444.5h2.4V490.6h-2.4zM180.03 446.9h2.4V490.6h-2.4zM183.12 441.2h2.4V490.6h-2.4zM186.21 452.7h2.4V490.6h-2.4zM189.30 458.5h2.4V490.6h-2.4zM192.39 431.3h2.4V490.6h-2.4zM195.48 431.3h2.4V490.6h-2.4zM198.57 443.6h2.4V490.6h-2.4zM201.66 445.3h2.4V490.6h-2.4zM204.75 449.4h2.4V490.6h-2.4zM207.84 446.9h2.4V490.6h-2.4zM210.93 440.3h2.4V490.6h-2.4zM214.02 441.2h2.4V490.6h-2.4zM217.11 447.8h2.4V490.6h-2.4zM220.20 446.9h2.4V490.6h-2.4zM223.29 451.1h2.4V490.6h-2.4zM226.38 443.6h2.4V490.6h-2.4zM229.47 437.1h2.4V490.6h-2.4zM232.56 441.2h2.4V490.6h-2.4zM235.65 448.6h2.4V490.6h-2.4zM238.74 435.4h2.4V490.6h-2.4zM241.83 431.3h2.4V490.6h-2.4zM244.92 436.2h2.4V490.6h-2.4zM248.01 445.3h2.4V490.6h-2.4zM251.10 443.6h2.4V490.6h-2.4zM254.19 436.2h2.4V490.6h-2.4zM257.28 441.2h2.4V490.6h-2.4zM260.37 445.3h2.4V490.6h-2.4zM263.46 436.2h2.4V490.6h-2.4zM266.55 435.4h2.4V490.6h-2.4zM269.64 441.2h2.4V490.6h-2.4zM272.73 431.3h2.4V490.6h-2.4zM275.82 446.9h2.4V490.6h-2.4zM278.91 442.0h2.4V490.6h-2.4zM282.00 443.6h2.4V490.6h-2.4zM285.09 433.8h2.4V490.6h-2.4zM288.18 445.3h2.4V490.6h-2.4zM291.27 466.7h2.4V490.6h-2.4zM294.36 431.3h2.4V490.6h-2.4zM297.45 431.3h2.4V490.6h-2.4zM300.54 431.3h2.4V490.6h-2.4zM303.63 431.3h2.4V490.6h-2.4zM306.72 452.7h2.4V490.6h-2.4zM309.81 431.3h2.4V490.6h-2.4zM312.90 431.3h2.4V490.6h-2.4zM315.99 431.3h2.4V490.6h-2.4zM319.08 431.3h2.4V490.6h-2.4zM322.17 433.8h2.4V490.6h-2.4zM325.26 431.3h2.4V490.6h-2.4zM328.35 432.9h2.4V490.6h-2.4zM331.44 431.3h2.4V490.6h-2.4zM334.53 458.5h2.4V490.6h-2.4zM337.62 437.9h2.4V490.6h-2.4zM340.71 437.1h2.4V490.6h-2.4zM343.80 442.8h2.4V490.6h-2.4zM346.89 436.2h2.4V490.6h-2.4zM349.98 449.4h2.4V490.6h-2.4zM353.07 446.1h2.4V490.6h-2.4zM356.16 451.1h2.4V490.6h-2.4zM359.25 437.1h2.4V490.6h-2.4zM362.34 431.3h2.4V490.6h-2.4zM365.43 447.8h2.4V490.6h-2.4zM368.52 464.2h2.4V490.6h-2.4zM371.61 439.5h2.4V490.6h-2.4zM374.70 437.9h2.4V490.6h-2.4zM377.79 446.1h2.4V490.6h-2.4zM380.88 452.7h2.4V490.6h-2.4zM383.97 442.0h2.4V490.6h-2.4zM387.06 451.1h2.4V490.6h-2.4zM390.15 443.6h2.4V490.6h-2.4zM393.24 449.4h2.4V490.6h-2.4zM396.33 453.5h2.4V490.6h-2.4zM399.42 452.7h2.4V490.6h-2.4zM402.51 446.1h2.4V490.6h-2.4zM405.60 449.4h2.4V490.6h-2.4zM408.69 440.3h2.4V490.6h-2.4zM411.78 436.2h2.4V490.6h-2.4zM414.87 436.2h2.4V490.6h-2.4zM417.96 445.3h2.4V490.6h-2.4zM421.05 447.8h2.4V490.6h-2.4zM424.14 451.1h2.4V490.6h-2.4zM427.23 442.0h2.4V490.6h-2.4zM430.32 446.9h2.4V490.6h-2.4zM433.41 447.8h2.4V490.6h-2.4zM436.50 434.6h2.4V490.6h-2.4zM439.59 431.3h2.4V490.6h-2.4zM442.68 450.2h2.4V490.6h-2.4zM445.77 445.3h2.4V490.6h-2.4zM448.86 442.8h2.4V490.6h-2.4zM451.95 441.2h2.4V490.6h-2.4zM455.04 439.5h2.4V490.6h-2.4zM458.13 446.1h2.4V490.6h-2.4zM461.22 434.6h2.4V490.6h-2.4zM464.31 431.3h2.4V490.6h-2.4zM467.40 437.9h2.4V490.6h-2.4zM470.49 447.8h2.4V490.6h-2.4zM473.58 452.7h2.4V490.6h-2.4zM476.67 449.4h2.4V490.6h-2.4zM479.76 437.9h2.4V490.6h-2.4zM482.85 450.2h2.4V490.6h-2.4zM485.94 450.2h2.4V490.6h-2.4zM489.03 456.0h2.4V490.6h-2.4zM492.12 448.6h2.4V490.6h-2.4zM495.21 458.5h2.4V490.6h-2.4zM498.30 437.9h2.4V490.6h-2.4zM501.39 437.1h2.4V490.6h-2.4zM504.48 463.4h2.4V490.6h-2.4zM507.57 445.3h2.4V490.6h-2.4zM510.66 448.6h2.4V490.6h-2.4zM513.75 458.5h2.4V490.6h-2.4zM516.84 453.5h2.4V490.6h-2.4zM519.93 457.6h2.4V490.6h-2.4zM523.02 444.5h2.4V490.6h-2.4zM526.11 443.6h2.4V490.6h-2.4zM529.20 431.3h2.4V490.6h-2.4zM532.29 452.7h2.4V490.6h-2.4zM535.38 444.5h2.4V490.6h-2.4zM538.47 445.3h2.4V490.6h-2.4zM541.56 434.6h2.4V490.6h-2.4zM544.65 452.7h2.4V490.6h-2.4zM547.74 453.5h2.4V490.6h-2.4zM550.83 442.8h2.4V490.6h-2.4zM553.92 442.8h2.4V490.6h-2.4zM557.01 447.8h2.4V490.6h-2.4zM560.10 448.6h2.4V490.6h-2.4zM563.19 457.6h2.4V490.6h-2.4zM566.28 450.2h2.4V490.6h-2.4zM569.37 446.9h2.4V490.6h-2.4zM572.46 456.0h2.4V490.6h-2.4zM575.55 442.0h2.4V490.6h-2.4zM578.64 451.1h2.4V490.6h-2.4zM581.73 446.1h2.4V490.6h-2.4zM584.82 452.7h2.4V490.6h-2.4zM587.91 443.6h2.4V490.6h-2.4zM591.00 455.2h2.4V490.6h-2.4zM594.09 449.4h2.4V490.6h-2.4zM597.18 431.3h2.4V490.6h-2.4zM600.27 446.1h2.4V490.6h-2.4zM603.36 441.2h2.4V490.6h-2.4zM606.45 446.1h2.4V490.6h-2.4zM609.54 447.8h2.4V490.6h-2.4zM612.63 449.4h2.4V490.6h-2.4zM615.72 444.5h2.4V490.6h-2.4zM618.81 440.3h2.4V490.6h-2.4zM621.90 457.6h2.4V490.6h-2.4zM624.99 452.7h2.4V490.6h-2.4zM628.08 446.1h2.4V490.6h-2.4zM631.17 437.1h2.4V490.6h-2.4zM634.26 454.3h2.4V490.6h-2.4zM637.35 431.3h2.4V490.6h-2.4zM640.44 441.2h2.4V490.6h-2.4zM643.53 435.4h2.4V490.6h-2.4zM646.62 442.8h2.4V490.6h-2.4zM649.71 450.2h2.4V490.6h-2.4zM652.80 431.3h2.4V490.6h-2.4zM655.89 431.3h2.4V490.6h-2.4zM658.98 431.3h2.4V490.6h-2.4zM662.07 442.0h2.4V490.6h-2.4zM665.16 443.6h2.4V490.6h-2.4zM668.25 433.8h2.4V490.6h-2.4zM671.34 460.1h2.4V490.6h-2.4zM674.43 454.3h2.4V490.6h-2.4zM677.52 447.8h2.4V490.6h-2.4zM680.61 445.3h2.4V490.6h-2.4zM683.70 444.5h2.4V490.6h-2.4zM686.79 433.8h2.4V490.6h-2.4zM689.88 435.4h2.4V490.6h-2.4zM692.97 451.1h2.4V490.6h-2.4zM696.06 442.0h2.4V490.6h-2.4zM699.15 446.9h2.4V490.6h-2.4zM702.24 448.6h2.4V490.6h-2.4zM705.33 447.8h2.4V490.6h-2.4zM708.42 460.1h2.4V490.6h-2.4zM711.51 451.9h2.4V490.6h-2.4zM714.60 431.3h2.4V490.6h-2.4zM717.69 431.3h2.4V490.6h-2.4zM720.78 434.6h2.4V490.6h-2.4zM723.87 446.1h2.4V490.6h-2.4zM726.96 447.8h2.4V490.6h-2.4zM730.05 447.8h2.4V490.6h-2.4zM733.14 451.1h2.4V490.6h-2.4zM736.23 451.1h2.4V490.6h-2.4zM739.32 463.4h2.4V490.6h-2.4zM742.41 464.2h2.4V490.6h-2.4zM745.50 457.6h2.4V490.6h-2.4zM748.59 452.7h2.4V490.6h-2.4zM751.68 446.9h2.4V490.6h-2.4zM754.77 449.4h2.4V490.6h-2.4zM757.86 449.4h2.4V490.6h-2.4zM760.95 450.2h2.4V490.6h-2.4zM764.04 451.1h2.4V490.6h-2.4zM767.13 453.5h2.4V490.6h-2.4zM770.22 448.6h2.4V490.6h-2.4zM773.31 449.4h2.4V490.6h-2.4zM776.40 447.8h2.4V490.6h-2.4zM779.49 443.6h2.4V490.6h-2.4z"/></clipPath></defs>
<line x1="3" y1="437.2" x2="805" y2="437.2" stroke="#111" stroke-width="1.3" stroke-dasharray="2.6 2"/>
<line x1="805" y1="437.2" x2="811" y2="437.2" stroke="#111" stroke-width="1.2"/>
<line x1="3" y1="450.5" x2="805" y2="450.5" stroke="#111" stroke-width="1.3" stroke-dasharray="2.6 2"/>
<line x1="805" y1="450.5" x2="811" y2="450.5" stroke="#111" stroke-width="1.2"/>
<line x1="3" y1="463.8" x2="805" y2="463.8" stroke="#111" stroke-width="1.3" stroke-dasharray="2.6 2"/>
<line x1="805" y1="463.8" x2="811" y2="463.8" stroke="#111" stroke-width="1.2"/>
<line x1="3" y1="477" x2="805" y2="477" stroke="#111" stroke-width="1.3" stroke-dasharray="2.6 2"/>
<line x1="805" y1="477" x2="811" y2="477" stroke="#111" stroke-width="1.2"/>
<line x1="3" y1="490.4" x2="805" y2="490.4" stroke="#111" stroke-width="1.3" stroke-dasharray="2.6 2"/>
<line x1="805" y1="490.4" x2="811" y2="490.4" stroke="#111" stroke-width="1.2"/>
<path d="M3.50 435.9h3.2V491.2h-3.2zM6.59 432.6h3.2V491.2h-3.2zM9.68 448.6h3.2V491.2h-3.2zM12.77 449.8h3.2V491.2h-3.2zM15.86 436.9h3.2V491.2h-3.2zM18.95 439.4h3.2V491.2h-3.2zM22.04 437.5h3.2V491.2h-3.2zM25.13 433.2h3.2V491.2h-3.2zM28.22 440.6h3.2V491.2h-3.2zM31.31 446.1h3.2V491.2h-3.2zM34.40 445.5h3.2V491.2h-3.2zM37.49 437.5h3.2V491.2h-3.2zM40.58 448.0h3.2V491.2h-3.2zM43.67 446.8h3.2V491.2h-3.2zM46.76 444.3h3.2V491.2h-3.2zM49.85 432.6h3.2V491.2h-3.2zM52.94 431.5h3.2V491.2h-3.2zM56.03 440.0h3.2V491.2h-3.2zM59.12 446.8h3.2V491.2h-3.2zM62.21 444.9h3.2V491.2h-3.2zM65.30 438.8h3.2V491.2h-3.2zM68.39 441.2h3.2V491.2h-3.2zM71.48 434.5h3.2V491.2h-3.2zM74.57 456.6h3.2V491.2h-3.2zM77.66 440.0h3.2V491.2h-3.2zM80.75 431.5h3.2V491.2h-3.2zM83.84 438.8h3.2V491.2h-3.2zM86.93 446.8h3.2V491.2h-3.2zM90.02 457.2h3.2V491.2h-3.2zM93.11 443.1h3.2V491.2h-3.2zM96.20 450.5h3.2V491.2h-3.2zM99.29 454.1h3.2V491.2h-3.2zM102.38 431.5h3.2V491.2h-3.2zM105.47 432.4h3.2V491.2h-3.2zM108.56 438.2h3.2V491.2h-3.2zM111.65 445.6h3.2V491.2h-3.2zM114.74 443.9h3.2V491.2h-3.2zM117.83 446.4h3.2V491.2h-3.2zM120.92 435.7h3.2V491.2h-3.2zM124.01 433.2h3.2V491.2h-3.2zM127.10 439.8h3.2V491.2h-3.2zM130.19 446.4h3.2V491.2h-3.2zM133.28 444.8h3.2V491.2h-3.2zM136.37 431.6h3.2V491.2h-3.2zM139.46 438.2h3.2V491.2h-3.2zM142.55 431.6h3.2V491.2h-3.2zM145.64 450.5h3.2V491.2h-3.2zM148.73 453.0h3.2V491.2h-3.2zM151.82 448.9h3.2V491.2h-3.2zM154.91 438.2h3.2V491.2h-3.2zM158.00 448.1h3.2V491.2h-3.2zM161.09 451.4h3.2V491.2h-3.2zM164.18 445.6h3.2V491.2h-3.2zM167.27 449.7h3.2V491.2h-3.2zM170.36 444.8h3.2V491.2h-3.2zM173.45 433.2h3.2V491.2h-3.2zM176.54 444.8h3.2V491.2h-3.2zM179.63 447.2h3.2V491.2h-3.2zM182.72 441.5h3.2V491.2h-3.2zM185.81 453.0h3.2V491.2h-3.2zM188.90 458.8h3.2V491.2h-3.2zM191.99 431.6h3.2V491.2h-3.2zM195.08 431.6h3.2V491.2h-3.2zM198.17 443.9h3.2V491.2h-3.2zM201.26 445.6h3.2V491.2h-3.2zM204.35 449.7h3.2V491.2h-3.2zM207.44 447.2h3.2V491.2h-3.2zM210.53 440.6h3.2V491.2h-3.2zM213.62 441.5h3.2V491.2h-3.2zM216.71 448.1h3.2V491.2h-3.2zM219.80 447.2h3.2V491.2h-3.2zM222.89 451.4h3.2V491.2h-3.2zM225.98 443.9h3.2V491.2h-3.2zM229.07 437.4h3.2V491.2h-3.2zM232.16 441.5h3.2V491.2h-3.2zM235.25 448.9h3.2V491.2h-3.2zM238.34 435.7h3.2V491.2h-3.2zM241.43 431.6h3.2V491.2h-3.2zM244.52 436.5h3.2V491.2h-3.2zM247.61 445.6h3.2V491.2h-3.2zM250.70 443.9h3.2V491.2h-3.2zM253.79 436.5h3.2V491.2h-3.2zM256.88 441.5h3.2V491.2h-3.2zM259.97 445.6h3.2V491.2h-3.2zM263.06 436.5h3.2V491.2h-3.2zM266.15 435.7h3.2V491.2h-3.2zM269.24 441.5h3.2V491.2h-3.2zM272.33 431.6h3.2V491.2h-3.2zM275.42 447.2h3.2V491.2h-3.2zM278.51 442.3h3.2V491.2h-3.2zM281.60 443.9h3.2V491.2h-3.2zM284.69 434.1h3.2V491.2h-3.2zM287.78 445.6h3.2V491.2h-3.2zM290.87 467.0h3.2V491.2h-3.2zM293.96 431.6h3.2V491.2h-3.2zM297.05 431.6h3.2V491.2h-3.2zM300.14 431.6h3.2V491.2h-3.2zM303.23 431.6h3.2V491.2h-3.2zM306.32 453.0h3.2V491.2h-3.2zM309.41 431.6h3.2V491.2h-3.2zM312.50 431.6h3.2V491.2h-3.2zM315.59 431.6h3.2V491.2h-3.2zM318.68 431.6h3.2V491.2h-3.2zM321.77 434.1h3.2V491.2h-3.2zM324.86 431.6h3.2V491.2h-3.2zM327.95 433.2h3.2V491.2h-3.2zM331.04 431.6h3.2V491.2h-3.2zM334.13 458.8h3.2V491.2h-3.2zM337.22 438.2h3.2V491.2h-3.2zM340.31 437.4h3.2V491.2h-3.2zM343.40 443.1h3.2V491.2h-3.2zM346.49 436.5h3.2V491.2h-3.2zM349.58 449.7h3.2V491.2h-3.2zM352.67 446.4h3.2V491.2h-3.2zM355.76 451.4h3.2V491.2h-3.2zM358.85 437.4h3.2V491.2h-3.2zM361.94 431.6h3.2V491.2h-3.2zM365.03 448.1h3.2V491.2h-3.2zM368.12 464.5h3.2V491.2h-3.2zM371.21 439.8h3.2V491.2h-3.2zM374.30 438.2h3.2V491.2h-3.2zM377.39 446.4h3.2V491.2h-3.2zM380.48 453.0h3.2V491.2h-3.2zM383.57 442.3h3.2V491.2h-3.2zM386.66 451.4h3.2V491.2h-3.2zM389.75 443.9h3.2V491.2h-3.2zM392.84 449.7h3.2V491.2h-3.2zM395.93 453.8h3.2V491.2h-3.2zM399.02 453.0h3.2V491.2h-3.2zM402.11 446.4h3.2V491.2h-3.2zM405.20 449.7h3.2V491.2h-3.2zM408.29 440.6h3.2V491.2h-3.2zM411.38 436.5h3.2V491.2h-3.2zM414.47 436.5h3.2V491.2h-3.2zM417.56 445.6h3.2V491.2h-3.2zM420.65 448.1h3.2V491.2h-3.2zM423.74 451.4h3.2V491.2h-3.2zM426.83 442.3h3.2V491.2h-3.2zM429.92 447.2h3.2V491.2h-3.2zM433.01 448.1h3.2V491.2h-3.2zM436.10 434.9h3.2V491.2h-3.2zM439.19 431.6h3.2V491.2h-3.2zM442.28 450.5h3.2V491.2h-3.2zM445.37 445.6h3.2V491.2h-3.2zM448.46 443.1h3.2V491.2h-3.2zM451.55 441.5h3.2V491.2h-3.2zM454.64 439.8h3.2V491.2h-3.2zM457.73 446.4h3.2V491.2h-3.2zM460.82 434.9h3.2V491.2h-3.2zM463.91 431.6h3.2V491.2h-3.2zM467.00 438.2h3.2V491.2h-3.2zM470.09 448.1h3.2V491.2h-3.2zM473.18 453.0h3.2V491.2h-3.2zM476.27 449.7h3.2V491.2h-3.2zM479.36 438.2h3.2V491.2h-3.2zM482.45 450.5h3.2V491.2h-3.2zM485.54 450.5h3.2V491.2h-3.2zM488.63 456.3h3.2V491.2h-3.2zM491.72 448.9h3.2V491.2h-3.2zM494.81 458.8h3.2V491.2h-3.2zM497.90 438.2h3.2V491.2h-3.2zM500.99 437.4h3.2V491.2h-3.2zM504.08 463.7h3.2V491.2h-3.2zM507.17 445.6h3.2V491.2h-3.2zM510.26 448.9h3.2V491.2h-3.2zM513.35 458.8h3.2V491.2h-3.2zM516.44 453.8h3.2V491.2h-3.2zM519.53 457.9h3.2V491.2h-3.2zM522.62 444.8h3.2V491.2h-3.2zM525.71 443.9h3.2V491.2h-3.2zM528.80 431.6h3.2V491.2h-3.2zM531.89 453.0h3.2V491.2h-3.2zM534.98 444.8h3.2V491.2h-3.2zM538.07 445.6h3.2V491.2h-3.2zM541.16 434.9h3.2V491.2h-3.2zM544.25 453.0h3.2V491.2h-3.2zM547.34 453.8h3.2V491.2h-3.2zM550.43 443.1h3.2V491.2h-3.2zM553.52 443.1h3.2V491.2h-3.2zM556.61 448.1h3.2V491.2h-3.2zM559.70 448.9h3.2V491.2h-3.2zM562.79 457.9h3.2V491.2h-3.2zM565.88 450.5h3.2V491.2h-3.2zM568.97 447.2h3.2V491.2h-3.2zM572.06 456.3h3.2V491.2h-3.2zM575.15 442.3h3.2V491.2h-3.2zM578.24 451.4h3.2V491.2h-3.2zM581.33 446.4h3.2V491.2h-3.2zM584.42 453.0h3.2V491.2h-3.2zM587.51 443.9h3.2V491.2h-3.2zM590.60 455.5h3.2V491.2h-3.2zM593.69 449.7h3.2V491.2h-3.2zM596.78 431.6h3.2V491.2h-3.2zM599.87 446.4h3.2V491.2h-3.2zM602.96 441.5h3.2V491.2h-3.2zM606.05 446.4h3.2V491.2h-3.2zM609.14 448.1h3.2V491.2h-3.2zM612.23 449.7h3.2V491.2h-3.2zM615.32 444.8h3.2V491.2h-3.2zM618.41 440.6h3.2V491.2h-3.2zM621.50 457.9h3.2V491.2h-3.2zM624.59 453.0h3.2V491.2h-3.2zM627.68 446.4h3.2V491.2h-3.2zM630.77 437.4h3.2V491.2h-3.2zM633.86 454.6h3.2V491.2h-3.2zM636.95 431.6h3.2V491.2h-3.2zM640.04 441.5h3.2V491.2h-3.2zM643.13 435.7h3.2V491.2h-3.2zM646.22 443.1h3.2V491.2h-3.2zM649.31 450.5h3.2V491.2h-3.2zM652.40 431.6h3.2V491.2h-3.2zM655.49 431.6h3.2V491.2h-3.2zM658.58 431.6h3.2V491.2h-3.2zM661.67 442.3h3.2V491.2h-3.2zM664.76 443.9h3.2V491.2h-3.2zM667.85 434.1h3.2V491.2h-3.2zM670.94 460.4h3.2V491.2h-3.2zM674.03 454.6h3.2V491.2h-3.2zM677.12 448.1h3.2V491.2h-3.2zM680.21 445.6h3.2V491.2h-3.2zM683.30 444.8h3.2V491.2h-3.2zM686.39 434.1h3.2V491.2h-3.2zM689.48 435.7h3.2V491.2h-3.2zM692.57 451.4h3.2V491.2h-3.2zM695.66 442.3h3.2V491.2h-3.2zM698.75 447.2h3.2V491.2h-3.2zM701.84 448.9h3.2V491.2h-3.2zM704.93 448.1h3.2V491.2h-3.2zM708.02 460.4h3.2V491.2h-3.2zM711.11 452.2h3.2V491.2h-3.2zM714.20 431.6h3.2V491.2h-3.2zM717.29 431.6h3.2V491.2h-3.2zM720.38 434.9h3.2V491.2h-3.2zM723.47 446.4h3.2V491.2h-3.2zM726.56 448.1h3.2V491.2h-3.2zM729.65 448.1h3.2V491.2h-3.2zM732.74 451.4h3.2V491.2h-3.2zM735.83 451.4h3.2V491.2h-3.2zM738.92 463.7h3.2V491.2h-3.2zM742.01 464.5h3.2V491.2h-3.2zM745.10 457.9h3.2V491.2h-3.2zM748.19 453.0h3.2V491.2h-3.2zM751.28 447.2h3.2V491.2h-3.2zM754.37 449.7h3.2V491.2h-3.2zM757.46 449.7h3.2V491.2h-3.2zM760.55 450.5h3.2V491.2h-3.2zM763.64 451.4h3.2V491.2h-3.2zM766.73 453.8h3.2V491.2h-3.2zM769.82 448.9h3.2V491.2h-3.2zM772.91 449.7h3.2V491.2h-3.2zM776.00 448.1h3.2V491.2h-3.2zM779.09 443.9h3.2V491.2h-3.2z" fill="#dadada"/>
<path d="M3.90 435.6h2.4V490.6h-2.4zM6.99 432.3h2.4V490.6h-2.4zM10.08 448.3h2.4V490.6h-2.4zM13.17 449.5h2.4V490.6h-2.4zM16.26 436.6h2.4V490.6h-2.4zM19.35 439.1h2.4V490.6h-2.4zM22.44 437.2h2.4V490.6h-2.4zM25.53 432.9h2.4V490.6h-2.4zM28.62 440.3h2.4V490.6h-2.4zM31.71 445.8h2.4V490.6h-2.4zM34.80 445.2h2.4V490.6h-2.4zM37.89 437.2h2.4V490.6h-2.4zM40.98 447.7h2.4V490.6h-2.4zM44.07 446.5h2.4V490.6h-2.4zM47.16 444.0h2.4V490.6h-2.4zM50.25 432.3h2.4V490.6h-2.4zM53.34 431.2h2.4V490.6h-2.4zM56.43 439.7h2.4V490.6h-2.4zM59.52 446.5h2.4V490.6h-2.4zM62.61 444.6h2.4V490.6h-2.4zM65.70 438.5h2.4V490.6h-2.4zM68.79 440.9h2.4V490.6h-2.4zM71.88 434.2h2.4V490.6h-2.4zM74.97 456.3h2.4V490.6h-2.4zM78.06 439.7h2.4V490.6h-2.4zM81.15 431.2h2.4V490.6h-2.4zM84.24 438.5h2.4V490.6h-2.4zM87.33 446.5h2.4V490.6h-2.4zM90.42 456.9h2.4V490.6h-2.4zM93.51 442.8h2.4V490.6h-2.4zM96.60 450.2h2.4V490.6h-2.4zM99.69 453.8h2.4V490.6h-2.4zM102.78 431.2h2.4V490.6h-2.4zM105.87 432.1h2.4V490.6h-2.4zM108.96 437.9h2.4V490.6h-2.4zM112.05 445.3h2.4V490.6h-2.4zM115.14 443.6h2.4V490.6h-2.4zM118.23 446.1h2.4V490.6h-2.4zM121.32 435.4h2.4V490.6h-2.4zM124.41 432.9h2.4V490.6h-2.4zM127.50 439.5h2.4V490.6h-2.4zM130.59 446.1h2.4V490.6h-2.4zM133.68 444.5h2.4V490.6h-2.4zM136.77 431.3h2.4V490.6h-2.4zM139.86 437.9h2.4V490.6h-2.4zM142.95 431.3h2.4V490.6h-2.4zM146.04 450.2h2.4V490.6h-2.4zM149.13 452.7h2.4V490.6h-2.4zM152.22 448.6h2.4V490.6h-2.4zM155.31 437.9h2.4V490.6h-2.4zM158.40 447.8h2.4V490.6h-2.4zM161.49 451.1h2.4V490.6h-2.4zM164.58 445.3h2.4V490.6h-2.4zM167.67 449.4h2.4V490.6h-2.4zM170.76 444.5h2.4V490.6h-2.4zM173.85 432.9h2.4V490.6h-2.4zM176.94 444.5h2.4V490.6h-2.4zM180.03 446.9h2.4V490.6h-2.4zM183.12 441.2h2.4V490.6h-2.4zM186.21 452.7h2.4V490.6h-2.4zM189.30 458.5h2.4V490.6h-2.4zM192.39 431.3h2.4V490.6h-2.4zM195.48 431.3h2.4V490.6h-2.4zM198.57 443.6h2.4V490.6h-2.4zM201.66 445.3h2.4V490.6h-2.4zM204.75 449.4h2.4V490.6h-2.4zM207.84 446.9h2.4V490.6h-2.4zM210.93 440.3h2.4V490.6h-2.4zM214.02 441.2h2.4V490.6h-2.4zM217.11 447.8h2.4V490.6h-2.4zM220.20 446.9h2.4V490.6h-2.4zM223.29 451.1h2.4V490.6h-2.4zM226.38 443.6h2.4V490.6h-2.4zM229.47 437.1h2.4V490.6h-2.4zM232.56 441.2h2.4V490.6h-2.4zM235.65 448.6h2.4V490.6h-2.4zM238.74 435.4h2.4V490.6h-2.4zM241.83 431.3h2.4V490.6h-2.4zM244.92 436.2h2.4V490.6h-2.4zM248.01 445.3h2.4V490.6h-2.4zM251.10 443.6h2.4V490.6h-2.4zM254.19 436.2h2.4V490.6h-2.4zM257.28 441.2h2.4V490.6h-2.4zM260.37 445.3h2.4V490.6h-2.4zM263.46 436.2h2.4V490.6h-2.4zM266.55 435.4h2.4V490.6h-2.4zM269.64 441.2h2.4V490.6h-2.4zM272.73 431.3h2.4V490.6h-2.4zM275.82 446.9h2.4V490.6h-2.4zM278.91 442.0h2.4V490.6h-2.4zM282.00 443.6h2.4V490.6h-2.4zM285.09 433.8h2.4V490.6h-2.4zM288.18 445.3h2.4V490.6h-2.4zM291.27 466.7h2.4V490.6h-2.4zM294.36 431.3h2.4V490.6h-2.4zM297.45 431.3h2.4V490.6h-2.4zM300.54 431.3h2.4V490.6h-2.4zM303.63 431.3h2.4V490.6h-2.4zM306.72 452.7h2.4V490.6h-2.4zM309.81 431.3h2.4V490.6h-2.4zM312.90 431.3h2.4V490.6h-2.4zM315.99 431.3h2.4V490.6h-2.4zM319.08 431.3h2.4V490.6h-2.4zM322.17 433.8h2.4V490.6h-2.4zM325.26 431.3h2.4V490.6h-2.4zM328.35 432.9h2.4V490.6h-2.4zM331.44 431.3h2.4V490.6h-2.4zM334.53 458.5h2.4V490.6h-2.4zM337.62 437.9h2.4V490.6h-2.4zM340.71 437.1h2.4V490.6h-2.4zM343.80 442.8h2.4V490.6h-2.4zM346.89 436.2h2.4V490.6h-2.4zM349.98 449.4h2.4V490.6h-2.4zM353.07 446.1h2.4V490.6h-2.4zM356.16 451.1h2.4V490.6h-2.4zM359.25 437.1h2.4V490.6h-2.4zM362.34 431.3h2.4V490.6h-2.4zM365.43 447.8h2.4V490.6h-2.4zM368.52 464.2h2.4V490.6h-2.4zM371.61 439.5h2.4V490.6h-2.4zM374.70 437.9h2.4V490.6h-2.4zM377.79 446.1h2.4V490.6h-2.4zM380.88 452.7h2.4V490.6h-2.4zM383.97 442.0h2.4V490.6h-2.4zM387.06 451.1h2.4V490.6h-2.4zM390.15 443.6h2.4V490.6h-2.4zM393.24 449.4h2.4V490.6h-2.4zM396.33 453.5h2.4V490.6h-2.4zM399.42 452.7h2.4V490.6h-2.4zM402.51 446.1h2.4V490.6h-2.4zM405.60 449.4h2.4V490.6h-2.4zM408.69 440.3h2.4V490.6h-2.4zM411.78 436.2h2.4V490.6h-2.4zM414.87 436.2h2.4V490.6h-2.4zM417.96 445.3h2.4V490.6h-2.4zM421.05 447.8h2.4V490.6h-2.4zM424.14 451.1h2.4V490.6h-2.4zM427.23 442.0h2.4V490.6h-2.4zM430.32 446.9h2.4V490.6h-2.4zM433.41 447.8h2.4V490.6h-2.4zM436.50 434.6h2.4V490.6h-2.4zM439.59 431.3h2.4V490.6h-2.4zM442.68 450.2h2.4V490.6h-2.4zM445.77 445.3h2.4V490.6h-2.4zM448.86 442.8h2.4V490.6h-2.4zM451.95 441.2h2.4V490.6h-2.4zM455.04 439.5h2.4V490.6h-2.4zM458.13 446.1h2.4V490.6h-2.4zM461.22 434.6h2.4V490.6h-2.4zM464.31 431.3h2.4V490.6h-2.4zM467.40 437.9h2.4V490.6h-2.4zM470.49 447.8h2.4V490.6h-2.4zM473.58 452.7h2.4V490.6h-2.4zM476.67 449.4h2.4V490.6h-2.4zM479.76 437.9h2.4V490.6h-2.4zM482.85 450.2h2.4V490.6h-2.4zM485.94 450.2h2.4V490.6h-2.4zM489.03 456.0h2.4V490.6h-2.4zM492.12 448.6h2.4V490.6h-2.4zM495.21 458.5h2.4V490.6h-2.4zM498.30 437.9h2.4V490.6h-2.4zM501.39 437.1h2.4V490.6h-2.4zM504.48 463.4h2.4V490.6h-2.4zM507.57 445.3h2.4V490.6h-2.4zM510.66 448.6h2.4V490.6h-2.4zM513.75 458.5h2.4V490.6h-2.4zM516.84 453.5h2.4V490.6h-2.4zM519.93 457.6h2.4V490.6h-2.4zM523.02 444.5h2.4V490.6h-2.4zM526.11 443.6h2.4V490.6h-2.4zM529.20 431.3h2.4V490.6h-2.4zM532.29 452.7h2.4V490.6h-2.4zM535.38 444.5h2.4V490.6h-2.4zM538.47 445.3h2.4V490.6h-2.4zM541.56 434.6h2.4V490.6h-2.4zM544.65 452.7h2.4V490.6h-2.4zM547.74 453.5h2.4V490.6h-2.4zM550.83 442.8h2.4V490.6h-2.4zM553.92 442.8h2.4V490.6h-2.4zM557.01 447.8h2.4V490.6h-2.4zM560.10 448.6h2.4V490.6h-2.4zM563.19 457.6h2.4V490.6h-2.4zM566.28 450.2h2.4V490.6h-2.4zM569.37 446.9h2.4V490.6h-2.4zM572.46 456.0h2.4V490.6h-2.4zM575.55 442.0h2.4V490.6h-2.4zM578.64 451.1h2.4V490.6h-2.4zM581.73 446.1h2.4V490.6h-2.4zM584.82 452.7h2.4V490.6h-2.4zM587.91 443.6h2.4V490.6h-2.4zM591.00 455.2h2.4V490.6h-2.4zM594.09 449.4h2.4V490.6h-2.4zM597.18 431.3h2.4V490.6h-2.4zM600.27 446.1h2.4V490.6h-2.4zM603.36 441.2h2.4V490.6h-2.4zM606.45 446.1h2.4V490.6h-2.4zM609.54 447.8h2.4V490.6h-2.4zM612.63 449.4h2.4V490.6h-2.4zM615.72 444.5h2.4V490.6h-2.4zM618.81 440.3h2.4V490.6h-2.4zM621.90 457.6h2.4V490.6h-2.4zM624.99 452.7h2.4V490.6h-2.4zM628.08 446.1h2.4V490.6h-2.4zM631.17 437.1h2.4V490.6h-2.4zM634.26 454.3h2.4V490.6h-2.4zM637.35 431.3h2.4V490.6h-2.4zM640.44 441.2h2.4V490.6h-2.4zM643.53 435.4h2.4V490.6h-2.4zM646.62 442.8h2.4V490.6h-2.4zM649.71 450.2h2.4V490.6h-2.4zM652.80 431.3h2.4V490.6h-2.4zM655.89 431.3h2.4V490.6h-2.4zM658.98 431.3h2.4V490.6h-2.4zM662.07 442.0h2.4V490.6h-2.4zM665.16 443.6h2.4V490.6h-2.4zM668.25 433.8h2.4V490.6h-2.4zM671.34 460.1h2.4V490.6h-2.4zM674.43 454.3h2.4V490.6h-2.4zM677.52 447.8h2.4V490.6h-2.4zM680.61 445.3h2.4V490.6h-2.4zM683.70 444.5h2.4V490.6h-2.4zM686.79 433.8h2.4V490.6h-2.4zM689.88 435.4h2.4V490.6h-2.4zM692.97 451.1h2.4V490.6h-2.4zM696.06 442.0h2.4V490.6h-2.4zM699.15 446.9h2.4V490.6h-2.4zM702.24 448.6h2.4V490.6h-2.4zM705.33 447.8h2.4V490.6h-2.4zM708.42 460.1h2.4V490.6h-2.4zM711.51 451.9h2.4V490.6h-2.4zM714.60 431.3h2.4V490.6h-2.4zM717.69 431.3h2.4V490.6h-2.4zM720.78 434.6h2.4V490.6h-2.4zM723.87 446.1h2.4V490.6h-2.4zM726.96 447.8h2.4V490.6h-2.4zM730.05 447.8h2.4V490.6h-2.4zM733.14 451.1h2.4V490.6h-2.4zM736.23 451.1h2.4V490.6h-2.4zM739.32 463.4h2.4V490.6h-2.4zM742.41 464.2h2.4V490.6h-2.4zM745.50 457.6h2.4V490.6h-2.4zM748.59 452.7h2.4V490.6h-2.4zM751.68 446.9h2.4V490.6h-2.4zM754.77 449.4h2.4V490.6h-2.4zM757.86 449.4h2.4V490.6h-2.4zM760.95 450.2h2.4V490.6h-2.4zM764.04 451.1h2.4V490.6h-2.4zM767.13 453.5h2.4V490.6h-2.4zM770.22 448.6h2.4V490.6h-2.4zM773.31 449.4h2.4V490.6h-2.4zM776.40 447.8h2.4V490.6h-2.4zM779.49 443.6h2.4V490.6h-2.4z" fill="#9e9e9e"/>
<line x1="3" y1="437.2" x2="805" y2="437.2" stroke="#dedede" stroke-width="1.3" stroke-dasharray="2.6 2" clip-path="url(#bc)"/>
<line x1="3" y1="450.5" x2="805" y2="450.5" stroke="#dedede" stroke-width="1.3" stroke-dasharray="2.6 2" clip-path="url(#bc)"/>
<line x1="3" y1="463.8" x2="805" y2="463.8" stroke="#dedede" stroke-width="1.3" stroke-dasharray="2.6 2" clip-path="url(#bc)"/>
<line x1="3" y1="477" x2="805" y2="477" stroke="#dedede" stroke-width="1.3" stroke-dasharray="2.6 2" clip-path="url(#bc)"/>
<line x1="3" y1="490.4" x2="805" y2="490.4" stroke="#222" stroke-width="1.2" stroke-dasharray="2.6 2"/>
<line x1="3" y1="434.4" x2="808" y2="434.4" stroke="#ff6a1a" stroke-width="1.3"/>
<line x1="3" y1="467.3" x2="808" y2="467.3" stroke="#ff6a3a" stroke-width="1.3"/>
<path d="M2.7 436.9L3.7 437.2L6.8 437.8L9.8 442.8L13.5 450.2L17.2 443.4L22.8 439.1L26.5 442.8L29.5 444.0L32.6 439.7L35.7 436.6L38.8 437.2L42.5 446.5L45.5 446.2L48.0 442.8L51.7 450.2L54.8 456.9L57.8 460.6L60.9 460.2L64.0 463.1L66.5 452.6L68.9 457.5L72.0 458.2L76.3 455.7L78.8 458.2L82.5 450.2L85.5 449.5L88.6 452.6L91.7 458.8L94.8 458.2L97.8 463.1L100.3 462.8L104.6 466.2L109.9 469.2L110.2 469.6L115.7 460.9L119.0 461.8L122.3 449.4L126.4 457.6L129.7 460.9L136.3 462.6L140.4 458.5L145.3 466.7L149.5 466.7L152.8 470.0L156.0 474.1L160.2 465.9L165.9 453.5L168.4 451.1L171.7 443.6L175.8 451.1L178.3 452.7L180.7 451.1L184.9 454.3L187.3 455.2L190.6 449.4L193.9 434.6L197.2 434.3L200.5 436.2L205.4 438.7L207.9 438.2L212.0 450.2L214.5 448.6L218.6 451.9L224.4 458.5L227.7 452.7L230.1 446.9L234.3 458.0L236.7 458.0L240.0 456.0L243.3 442.0L248.3 437.1L251.6 435.4L256.6 432.6L260.7 431.3L264.0 436.2L267.3 432.1L270.6 431.0L274.7 431.3L278.8 436.2L282.9 444.5L288.7 435.4L292.8 442.8L297.8 451.9L304.3 435.4L307.6 434.9L310.1 431.6L313.4 428.3L319.2 424.7L338.9 424.7L341.9 428.8L343.0 431.3L344.2 436.2L347.2 436.6L352.1 442.8L356.7 451.9L360.3 444.5L363.3 443.6L366.1 438.7L369.4 442.0L371.9 440.8L376.0 451.1L378.4 446.1L381.7 450.2L385.0 453.5L388.3 449.4L390.8 444.5L394.1 449.7L396.6 449.1L400.0 451.1L402.4 452.4L405.7 449.4L410.6 438.7L414.8 434.3L418.9 432.1L422.2 447.4L424.6 446.4L427.9 439.9L432.0 444.5L436.2 446.9L441.1 452.7L444.4 454.0L450.2 458.5L453.5 459.0L460.0 467.5L467.5 472.1L470.7 468.8L474.4 471.1L480.6 446.1L486.4 456.0L493.0 445.3L496.3 449.4L498.7 455.2L502.0 447.4L504.5 447.4L507.8 449.4L512.7 456.8L514.4 457.3L518.5 449.4L521.8 445.3L524.3 444.5L526.7 440.8L531.7 445.3L535.8 448.6L539.1 445.3L542.4 456.8L542.5 457.3L547.4 458.0L551.5 465.0L554.0 464.2L557.3 455.2L560.6 450.2L563.9 456.8L567.2 462.9L569.6 461.8L572.9 462.6L577.0 454.3L581.2 445.3L585.3 442.8L588.6 449.1L591.0 446.1L594.3 448.6L597.6 457.3L600.9 458.0L606.7 462.9L610.0 456.8L613.3 460.1L616.6 449.4L619.0 454.3L622.3 458.5L625.6 455.2L629.7 443.6L632.2 436.2L637.2 434.3L643.7 434.9L647.0 431.6L650.3 428.8L658.6 425.5L670.1 427.2L673.7 431.0L678.0 431.0L680.3 429.3L683.3 431.1L687.4 431.5L689.9 430.3L691.5 432.1L693.2 436.2L696.5 437.1L699.8 445.8L703.9 440.8L707.2 439.2L711.3 444.5L715.4 431.3L717.0 429.3L718.7 431.1L720.0 431.6L721.2 433.8L723.1 431.3L725.3 428.7L728.6 430.3L729.4 431.6L731.0 435.9L735.2 431.6L736.8 430.3L741.7 427.2L745.9 430.0L746.7 431.3L748.3 437.9L751.6 438.7L755.4 449.4L760.7 443.6L764.0 448.6L768.9 453.5L773.0 452.4L776.8 447.4L780.4 460.9" fill="none" stroke="#151515" stroke-width="2.1" stroke-linejoin="round" clip-path="url(#pc)"/>
</svg>
<div class="abs" style="left:3px;top:3px;width:903px;height:4.5px;background:#000"></div>
<div class="abs" style="left:3px;top:3px;width:54px;height:4.5px;background:#2e2e2e"></div>
<div class="abs" style="left:102px;top:3px;width:1px;height:4.5px;background:#3a3a3a"></div><div class="abs" style="left:153.8px;top:3px;width:1px;height:4.5px;background:#3a3a3a"></div>
<div class="abs" style="left:903.5px;top:3px;width:2.3px;height:527px;background:#111"></div>
<div class="abs" style="left:3px;top:396.3px;width:903px;height:19.7px;background:#000"></div>
<div class="abs" style="left:3px;top:528.1px;width:903px;height:2.5px;background:#111"></div>
<div class="hd" style="transform:scaleX(0.7900);left:7.5px;color:#333;">16/01/2024</div>
<div class="hd" style="transform:scaleX(0.8076);left:55.5px;color:#f0323c;">Var=-1,69%</div>
<div class="hd" style="transform:scaleX(0.7873);left:106px;color:#333;"><u style="border-bottom-color:#5050e0">Ab=131.514,92</u></div>
<div class="hd" style="transform:scaleX(0.7901);left:169.5px;color:#333;"><u style="border-bottom-color:#5050e0">Max=131.516,52</u></div>
<div class="hd" style="transform:scaleX(0.8055);left:238.8px;color:#333;"><u style="border-bottom-color:#5050e0">Min=129.146,61</u></div>
<div class="hd" style="transform:scaleX(0.7669);left:307px;color:#333;"><u style="border-bottom-color:#5050e0">Fe=129.294,04</u></div>
<div class="hd" style="transform:scaleX(0.8041);left:367.7px;color:#f0323c;">Var=-1,69%</div>
<div class="hd" style="transform:scaleX(0.7740);left:419px;color:#333;"><u style="border-bottom-color:#444">Ab=131.514,92</u></div>
<div class="hd" style="transform:scaleX(0.7901);left:481.3px;color:#333;"><u style="border-bottom-color:#444">Max=131.516,52</u></div>
<div class="hd" style="transform:scaleX(0.8005);left:550.6px;color:#333;"><u style="border-bottom-color:#444">Min=129.146,61</u></div>
<div class="hd" style="transform:scaleX(0.7561);left:618.8px;color:#333;"><u style="border-bottom-color:#444">Fe=129.294,04</u></div>
<div class="hd" style="transform:scaleX(0.7790);left:679.5px;color:#333;"><u style="border-bottom-color:#888">SMA21=131.789,04</u></div>
<div class="hd" style="transform:scaleX(0.7894);left:759.3px;color:#333;"><u style="border-bottom-color:#e0a020">SMA200=117.157,64</u></div>
<div class="hd" style="transform:scaleX(0.7781);left:845px;color:#333;"><u style="border-bottom-color:#aaa">BBANDS ACIM</u></div>
<div class="abs" style="left:808px;top:21.6px;width:95px;height:9.5px;overflow:hidden"><div class="ax" style="left:5px;top:-6.6px">167.473,46</div></div>
<div class="ax" style="top:43.8px">159.861,03</div>
<div class="ax" style="top:73.5px">152.248,60</div>
<div class="ax" style="top:106.5px">144.636,17</div>
<div class="ax" style="top:140.60000000000002px">137.023,74</div>
<div class="ax" style="top:176.4px">129.411,31</div>
<div class="ax" style="top:215.3px">121.798,88</div>
<div class="ax" style="top:255.2px">114.186,45</div>
<div class="ax" style="top:298.1px">106.574,02</div>
<div class="ax" style="top:344.8px">98.961,59</div>
<svg class="abs" style="left:764px;top:24px" width="42" height="24" viewBox="764 24 42 24"><ellipse cx="775.2" cy="35.1" rx="7.3" ry="8" fill="#ffbd78" stroke="#8d7b6b" stroke-width="1"/><text x="775.2" y="39.6" font-family="Liberation Sans, sans-serif" font-weight="bold" font-size="12.5" text-anchor="middle" fill="#54402c">S</text><rect x="787" y="27.5" width="15" height="17.2" rx="1.2" fill="#74c479"/><path d="M787.2 36.1 L794.5 28.7 L801.8 36.1 L794.5 43.5 Z" fill="#f6dc58"/><ellipse cx="794.5" cy="36.1" rx="4.4" ry="5.1" fill="#4c88d9"/><path d="M790.6 34.6 Q794.5 33.3 798.6 36.2" fill="none" stroke="#a9c8ee" stroke-width="0.9"/></svg>
<div class="box" style="top:179.3px;height:12.3px;background:#000;color:#e6e619;font-size:11px;line-height:12.6px"><span style="margin-left:2.6px;transform:scaleX(.775)">129.294,04</span></div>
<div class="abs" style="left:3px;top:201px;width:8px;height:16px;background:#1c1c1c"></div>
<svg class="abs" style="left:3px;top:201px" width="8" height="16"><path d="M2.6 4.5 L5.6 8 L2.6 11.5" fill="none" stroke="#ddd" stroke-width="1.6"/></svg>
<div class="abs" style="left:3px;top:400.5px;width:39px;height:15.5px;background:#222"></div>
<div class="abs" style="left:42px;top:400.5px;width:1px;height:15.5px;background:#444"></div>
<div class="abs" style="left:91px;top:400.5px;width:1px;height:15.5px;background:#333"></div>
<div class="hd" style="transform:scaleX(0.7268);left:6px;top:403px;color:#d0d0d0;font-size:11px">VOL</div>
<svg class="abs" style="left:28px;top:403.5px" width="9" height="9"><path d="M1.2 1.2 L7.3 7.3 M7.3 1.2 L1.2 7.3" stroke="#f4f4f4" stroke-width="1.7"/></svg>
<div class="hd" style="transform:scaleX(0.7675);left:45.5px;top:403px;color:#d0d0d0;font-size:11px">ATR 10</div>
<div class="abs" style="left:887px;top:405px;width:7px;height:7px;background:#e8e8e8;border-top:2px solid #bbb;box-sizing:border-box"></div>
<div class="hd" style="transform:scaleX(0.7991);left:7.7px;top:418px;">16/01/2024</div>
<div class="hd" style="transform:scaleX(0.7737);left:55px;top:418px;"><u style="border-bottom-color:#ccc">VOL=17.476.671.330,00</u></div>
<div class="hd" style="transform:scaleX(0.7649);left:152px;top:418px;"><u style="border-bottom-color:#222">RSI=37,55</u></div>
<div class="ax" style="top:428.3px">20,00 B</div>
<div class="ax" style="top:441.6px">15,00 B</div>
<div class="ax" style="top:454.90000000000003px">10,00 B</div>
<div class="ax" style="top:468.1px">5,00 B</div>
<div class="ax" style="top:481.5px">0,00</div>
<div class="box" style="top:431px;height:9.5px;background:#ff6a00;color:#fff;font-size:10px;line-height:9.5px"><span style="margin-left:3px">70,00</span></div>
<div class="box" style="top:440.5px;height:9px;background:#a0a0a0;color:#444;font-size:10px;line-height:9px"><span style="margin-left:3px">17,48 B</span></div>
<div class="box" style="top:466px;height:7px;background:#ff6428;color:#fff;font-size:10px;line-height:7px"><span style="margin-left:3px">30,00</span></div>
<div class="box" style="top:455.3px;height:12.4px;background:#000;color:#fff;font-size:10px;line-height:12.4px"><span style="margin-left:3px">37,55</span></div>
<div class="abs" style="left:50.5px;top:501px;width:1.2px;height:4.6px;background:#555"></div>
<div class="mo" style="left:50px;color:#1a1a1a">fev/2023</div>
<div class="abs" style="left:106.5px;top:501px;width:1.2px;height:4.6px;background:#555"></div>
<div class="mo" style="left:106px;color:#1a1a1a">mar/2023</div>
<div class="abs" style="left:177.5px;top:501px;width:1.2px;height:4.6px;background:#555"></div>
<div class="mo" style="left:177px;color:#1a1a1a">abr/2023</div>
<div class="abs" style="left:232.5px;top:501px;width:1.2px;height:4.6px;background:#555"></div>
<div class="mo" style="left:232px;color:#1a1a1a">mai/2023</div>
<div class="abs" style="left:300.5px;top:501px;width:1.2px;height:4.6px;background:#555"></div>
<div class="mo" style="left:300px;color:#1a1a1a">jun/2023</div>
<div class="abs" style="left:365.5px;top:501px;width:1.2px;height:4.6px;background:#555"></div>
<div class="mo" style="left:365px;color:#1a1a1a">jul/2023</div>
<div class="abs" style="left:430.5px;top:501px;width:1.2px;height:4.6px;background:#555"></div>
<div class="mo" style="left:430px;color:#1a1a1a">ago/2023</div>
<div class="abs" style="left:501.5px;top:501px;width:1.2px;height:4.6px;background:#555"></div>
<div class="mo" style="left:501px;color:#1a1a1a">set/2023</div>
<div class="abs" style="left:562.5px;top:501px;width:1.2px;height:4.6px;background:#555"></div>
<div class="mo" style="left:562px;color:#1a1a1a">out/2023</div>
<div class="abs" style="left:627.5px;top:501px;width:1.2px;height:4.6px;background:#555"></div>
<div class="mo" style="left:627px;color:#1a1a1a">nov/2023</div>
<div class="abs" style="left:689.5px;top:501px;width:1.2px;height:4.6px;background:#555"></div>
<div class="mo" style="left:689px;color:#1a1a1a">dez/2023</div>
<div class="abs" style="left:748.5px;top:501px;width:1.2px;height:4.6px;background:#4444ff"></div>
<div class="mo" style="left:748px;color:#2222ff">jan/2024</div>
</body></html>
